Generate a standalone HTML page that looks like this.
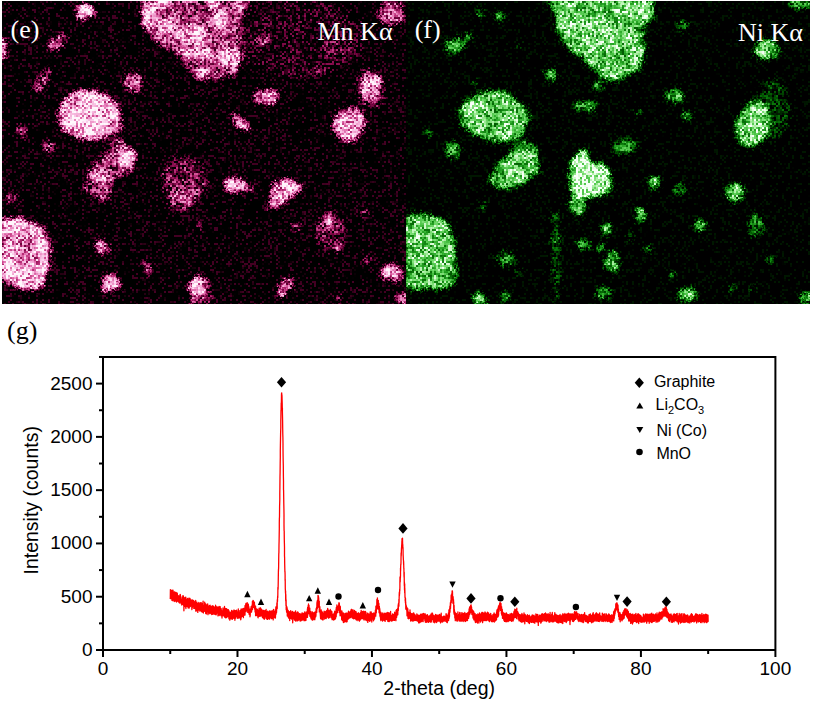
<!DOCTYPE html>
<html><head><meta charset="utf-8"><title>EDS maps and XRD pattern</title>
<style>
html,body{margin:0;padding:0;background:#fff;}
body{width:814px;height:709px;position:relative;overflow:hidden;}
svg{position:absolute;left:0;top:0;display:block;}
.tk{font-family:"Liberation Sans",Arial,sans-serif;font-size:19px;fill:#000;}
.ax{font-family:"Liberation Sans",Arial,sans-serif;font-size:19.5px;fill:#000;}
.lg{font-family:"Liberation Sans",Arial,sans-serif;font-size:16px;fill:#000;}
.sub{font-size:11px;}
.lab{font-family:"Liberation Serif","Times New Roman",serif;font-size:26px;}
</style></head><body>
<svg class="eds" width="814" height="306" viewBox="0 0 814 306">
<clipPath id="cmn"><rect x="2" y="1" width="404" height="303"/></clipPath>
<filter id="fmn" x="-12" y="-13" width="432" height="331" filterUnits="userSpaceOnUse" color-interpolation-filters="sRGB"><feTurbulence type="fractalNoise" baseFrequency="0.12" numOctaves="2" seed="27" result="dt"/><feDisplacementMap in="SourceGraphic" in2="dt" scale="7" xChannelSelector="R" yChannelSelector="G" result="d"/><feGaussianBlur in="d" stdDeviation="2.0" result="b0"/><feTurbulence type="fractalNoise" baseFrequency="0.7" numOctaves="1" seed="40" result="ht"/><feDisplacementMap in="b0" in2="ht" scale="7" xChannelSelector="R" yChannelSelector="G" result="b"/><feTurbulence type="fractalNoise" baseFrequency="0.06" numOctaves="2" seed="57" result="mt"/><feColorMatrix in="mt" type="matrix" values="2.2 0 0 0 -0.6  2.2 0 0 0 -0.6  2.2 0 0 0 -0.6  0 0 0 0 1" result="m"/><feComposite in="b" in2="m" operator="arithmetic" k1="0.5" k2="0.75" k3="0" k4="0" result="b2"/><feTurbulence type="fractalNoise" baseFrequency="0.85" numOctaves="1" seed="7" result="t0"/><feColorMatrix in="t0" type="matrix" values="3.6 0 0 0 -1.3  3.6 0 0 0 -1.3  3.6 0 0 0 -1.3  0 0 0 0 1" result="t1"/><feFlood flood-color="#fff" x="-12" y="-13" width="1" height="1" result="dot"/><feComposite in="dot" in2="dot" operator="over" x="-12" y="-13" width="2" height="2" result="cell"/><feTile in="cell" x="-12" y="-13" width="432" height="331" result="grid"/><feComposite in="t1" in2="grid" operator="in" result="sp"/><feConvolveMatrix in="sp" order="2" kernelMatrix="1 1 1 1" divisor="1" targetX="1" targetY="1" edgeMode="none" preserveAlpha="false" result="n0"/><feGaussianBlur in="n0" stdDeviation="0.4" result="n"/><feComposite in="b2" in2="n" operator="arithmetic" k1="0.17" k2="0.92" k3="0.5" k4="-0.36" result="v"/><feComponentTransfer in="v"><feFuncR type="table" tableValues="0.000 0.196 0.373 0.549 0.706 0.831 0.910 0.953 0.976 0.988 1.000"/><feFuncG type="table" tableValues="0.000 0.000 0.000 0.059 0.157 0.333 0.510 0.659 0.776 0.878 0.969"/><feFuncB type="table" tableValues="0.000 0.098 0.196 0.314 0.451 0.596 0.737 0.831 0.902 0.953 0.992"/><feFuncA type="linear" slope="0" intercept="1"/></feComponentTransfer></filter>
<g clip-path="url(#cmn)"><g filter="url(#fmn)"><rect x="-12" y="-13" width="432" height="331" fill="#000"/>
<ellipse cx="300" cy="38" rx="65" ry="40" fill="rgb(33,33,33)"/>
<ellipse cx="340" cy="48" rx="16" ry="10" fill="rgb(71,71,71)"/>
<polygon points="142.0,-2.0 142.0,27.0 156.0,43.0 181.0,57.0 192.0,75.0 199.0,80.0 233.0,78.0 243.0,60.0 244.0,40.0 240.0,24.0 246.0,12.0 251.0,4.0 251.0,-2.0" fill="rgb(128,128,128)"/>
<ellipse cx="150" cy="16" rx="8" ry="13" fill="rgb(224,224,224)"/>
<ellipse cx="165" cy="25" rx="8" ry="8" fill="rgb(219,219,219)"/>
<ellipse cx="192" cy="35" rx="13" ry="11" fill="rgb(235,235,235)"/>
<ellipse cx="219" cy="22" rx="10" ry="9" fill="rgb(224,224,224)"/>
<ellipse cx="196" cy="53" rx="15" ry="7" fill="rgb(224,224,224)"/>
<ellipse cx="230" cy="59" rx="11" ry="11" fill="rgb(204,204,204)"/>
<ellipse cx="200" cy="73" rx="7" ry="6" fill="rgb(191,191,191)"/>
<ellipse cx="164" cy="3" rx="8" ry="4" fill="rgb(219,219,219)"/>
<ellipse cx="212" cy="3" rx="7" ry="4" fill="rgb(219,219,219)"/>
<ellipse cx="241" cy="7" rx="6" ry="6" fill="rgb(217,217,217)"/>
<polygon points="57.0,117.0 62.0,102.0 71.0,93.0 88.0,89.0 110.0,96.0 119.0,109.0 121.0,126.0 113.0,135.0 99.0,140.0 80.0,139.0 64.0,131.0" fill="rgb(230,230,230)"/>
<polygon points="111.0,137.0 122.0,140.0 133.0,150.0 136.0,161.0 132.0,172.0 121.0,177.0 113.0,183.0 110.0,194.0 104.0,201.0 96.0,197.0 84.0,193.0 82.0,189.0 88.0,183.0 89.0,170.0 99.0,161.0 108.0,150.0" fill="rgb(128,128,128)"/>
<ellipse cx="105" cy="195" rx="5" ry="6" fill="rgb(158,158,158)"/>
<ellipse cx="127" cy="157" rx="9" ry="8" fill="rgb(224,224,224)"/>
<ellipse cx="98" cy="176" rx="9" ry="7" fill="rgb(199,199,199)"/>
<ellipse cx="85" cy="12" rx="10" ry="8" fill="rgb(204,204,204)"/>
<ellipse cx="2" cy="49" rx="5" ry="11" fill="rgb(178,178,178)"/>
<ellipse cx="57" cy="42" rx="11" ry="7" transform="rotate(-35 57 42)" fill="rgb(153,153,153)"/>
<ellipse cx="44" cy="78" rx="5" ry="12" transform="rotate(30 44 78)" fill="rgb(115,115,115)"/>
<ellipse cx="37" cy="88" rx="4" ry="3" fill="rgb(191,191,191)"/>
<ellipse cx="133" cy="83" rx="10" ry="9" fill="rgb(158,158,158)"/>
<ellipse cx="22" cy="130" rx="6" ry="7" fill="rgb(107,107,107)"/>
<ellipse cx="48" cy="147" rx="7" ry="5" fill="rgb(128,128,128)"/>
<ellipse cx="11" cy="200" rx="6" ry="5" fill="rgb(102,102,102)"/>
<ellipse cx="263" cy="41" rx="7" ry="5" fill="rgb(158,158,158)"/>
<ellipse cx="266" cy="97" rx="12" ry="8" fill="rgb(173,173,173)"/>
<ellipse cx="240" cy="123" rx="4.5" ry="12" transform="rotate(-42 240 123)" fill="rgb(242,242,242)"/>
<ellipse cx="319" cy="70" rx="6" ry="3" fill="rgb(89,89,89)"/>
<ellipse cx="371" cy="88" rx="15" ry="22" fill="rgb(64,64,64)"/>
<ellipse cx="370.5" cy="87" rx="9" ry="15" fill="rgb(224,224,224)"/>
<ellipse cx="349.5" cy="124" rx="16" ry="17" transform="rotate(15 349.5 124)" fill="rgb(209,209,209)"/>
<ellipse cx="391" cy="12" rx="13" ry="13" fill="rgb(153,153,153)"/>
<ellipse cx="390" cy="12" rx="6" ry="9" fill="rgb(204,204,204)"/>
<polygon points="163.5,171.0 173.0,157.6 190.5,157.6 204.0,167.0 208.0,180.5 201.0,196.8 190.5,207.6 177.0,211.6 167.6,205.0 164.9,187.3" fill="rgb(92,92,92)"/>
<ellipse cx="180" cy="199" rx="10" ry="7" fill="rgb(153,153,153)"/>
<ellipse cx="166" cy="174" rx="4" ry="5" fill="rgb(140,140,140)"/>
<ellipse cx="234" cy="185" rx="11" ry="8" transform="rotate(20 234 185)" fill="rgb(230,230,230)"/>
<ellipse cx="249" cy="188" rx="6" ry="4" transform="rotate(20 249 188)" fill="rgb(140,140,140)"/>
<ellipse cx="200" cy="225" rx="3" ry="3" fill="rgb(115,115,115)"/>
<polygon points="276.0,180.0 290.0,179.0 306.0,187.0 297.0,192.0 286.0,199.0 276.0,208.0 267.0,208.0 270.0,196.0" fill="rgb(224,224,224)"/>
<polygon points="0.0,219.0 16.0,217.6 32.0,220.8 44.7,230.0 50.0,244.7 50.0,264.0 45.5,282.5 37.0,290.0 19.2,290.0 6.4,284.5 0.0,275.0" fill="rgb(217,217,217)"/>
<ellipse cx="101.7" cy="247" rx="8" ry="7" fill="rgb(209,209,209)"/>
<polygon points="111.0,270.0 117.0,276.0 121.0,289.0 102.0,291.0 105.0,279.0" fill="rgb(217,217,217)"/>
<ellipse cx="147" cy="268" rx="3" ry="8" transform="rotate(-15 147 268)" fill="rgb(166,166,166)"/>
<ellipse cx="199" cy="287" rx="10" ry="11" fill="rgb(217,217,217)"/>
<ellipse cx="285" cy="287" rx="5" ry="13" transform="rotate(35 285 287)" fill="rgb(204,204,204)"/>
<ellipse cx="296" cy="227" rx="5" ry="4" fill="rgb(102,102,102)"/>
<ellipse cx="330" cy="232" rx="15" ry="19" fill="rgb(76,76,76)"/>
<ellipse cx="329" cy="221" rx="4" ry="5" fill="rgb(204,204,204)"/>
<ellipse cx="337" cy="248" rx="4" ry="3" fill="rgb(191,191,191)"/>
<ellipse cx="364" cy="212" rx="4" ry="3" fill="rgb(102,102,102)"/>
<ellipse cx="369" cy="260" rx="5" ry="3" fill="rgb(115,115,115)"/>
<ellipse cx="392" cy="273" rx="11" ry="8" transform="rotate(20 392 273)" fill="rgb(224,224,224)"/>
<ellipse cx="402" cy="299" rx="8" ry="6" fill="rgb(153,153,153)"/>
<ellipse cx="339" cy="300" rx="4" ry="4" fill="rgb(102,102,102)"/>
<ellipse cx="200" cy="300" rx="12" ry="5" fill="rgb(102,102,102)"/>
</g></g>
<clipPath id="cni"><rect x="406" y="1" width="404" height="303"/></clipPath>
<filter id="fni" x="392" y="-13" width="432" height="331" filterUnits="userSpaceOnUse" color-interpolation-filters="sRGB"><feTurbulence type="fractalNoise" baseFrequency="0.12" numOctaves="2" seed="31" result="dt"/><feDisplacementMap in="SourceGraphic" in2="dt" scale="7" xChannelSelector="R" yChannelSelector="G" result="d"/><feGaussianBlur in="d" stdDeviation="2.2" result="b0"/><feTurbulence type="fractalNoise" baseFrequency="0.7" numOctaves="1" seed="44" result="ht"/><feDisplacementMap in="b0" in2="ht" scale="7" xChannelSelector="R" yChannelSelector="G" result="b"/><feTurbulence type="fractalNoise" baseFrequency="0.06" numOctaves="2" seed="61" result="mt"/><feColorMatrix in="mt" type="matrix" values="2.2 0 0 0 -0.6  2.2 0 0 0 -0.6  2.2 0 0 0 -0.6  0 0 0 0 1" result="m"/><feComposite in="b" in2="m" operator="arithmetic" k1="0.3" k2="0.85" k3="0" k4="0" result="b2"/><feTurbulence type="fractalNoise" baseFrequency="0.85" numOctaves="1" seed="11" result="t0"/><feColorMatrix in="t0" type="matrix" values="3.6 0 0 0 -1.3  3.6 0 0 0 -1.3  3.6 0 0 0 -1.3  0 0 0 0 1" result="t1"/><feFlood flood-color="#fff" x="392" y="-13" width="1" height="1" result="dot"/><feComposite in="dot" in2="dot" operator="over" x="392" y="-13" width="2" height="2" result="cell"/><feTile in="cell" x="392" y="-13" width="432" height="331" result="grid"/><feComposite in="t1" in2="grid" operator="in" result="sp"/><feConvolveMatrix in="sp" order="2" kernelMatrix="1 1 1 1" divisor="1" targetX="1" targetY="1" edgeMode="none" preserveAlpha="false" result="n0"/><feGaussianBlur in="n0" stdDeviation="0.4" result="n"/><feComposite in="b2" in2="n" operator="arithmetic" k1="0.2" k2="0.94" k3="0.4" k4="-0.32" result="v"/><feComponentTransfer in="v"><feFuncR type="table" tableValues="0.000 0.000 0.000 0.012 0.059 0.157 0.294 0.451 0.627 0.843 0.980"/><feFuncG type="table" tableValues="0.000 0.118 0.243 0.373 0.510 0.647 0.765 0.855 0.925 0.980 1.000"/><feFuncB type="table" tableValues="0.000 0.000 0.000 0.012 0.059 0.149 0.275 0.424 0.596 0.824 0.980"/><feFuncA type="linear" slope="0" intercept="1"/></feComponentTransfer></filter>
<g clip-path="url(#cni)"><g filter="url(#fni)"><rect x="392" y="-13" width="432" height="331" fill="#000"/>
<polygon points="547.0,-2.0 547.0,0.0 554.0,10.3 555.8,31.0 564.4,46.4 581.6,56.8 593.6,68.8 602.2,79.0 622.9,79.0 640.0,68.8 645.2,48.2 643.5,25.8 653.8,17.2 653.8,-2.0" fill="rgb(194,194,194)"/>
<ellipse cx="800" cy="3" rx="12" ry="6" fill="rgb(166,166,166)"/>
<ellipse cx="455" cy="46" rx="10" ry="8" fill="rgb(178,178,178)"/>
<ellipse cx="468" cy="37" rx="5" ry="4" fill="rgb(153,153,153)"/>
<ellipse cx="480.5" cy="14" rx="5" ry="4" fill="rgb(153,153,153)"/>
<ellipse cx="499" cy="16" rx="5" ry="5" fill="rgb(153,153,153)"/>
<ellipse cx="521" cy="46" rx="2" ry="2" fill="rgb(140,140,140)"/>
<ellipse cx="551" cy="75" rx="5" ry="6" fill="rgb(178,178,178)"/>
<ellipse cx="597" cy="85" rx="5" ry="4" fill="rgb(153,153,153)"/>
<ellipse cx="683" cy="26" rx="5" ry="5" fill="rgb(128,128,128)"/>
<polygon points="458.3,111.2 467.5,98.3 482.2,91.0 504.2,91.0 522.6,103.9 530.0,116.7 524.4,131.4 513.4,140.6 495.0,142.4 476.7,136.9 462.0,125.9" fill="rgb(189,189,189)"/>
<polygon points="491.4,171.7 500.6,160.7 513.4,147.9 524.4,138.7 535.4,146.0 540.0,159.0 537.2,173.6 526.2,182.8 509.7,188.3 495.0,186.4 488.6,179.0" fill="rgb(184,184,184)"/>
<ellipse cx="453" cy="150" rx="7" ry="9" fill="rgb(178,178,178)"/>
<ellipse cx="475" cy="84" rx="3" ry="3" fill="rgb(140,140,140)"/>
<ellipse cx="429" cy="134" rx="4" ry="4" fill="rgb(140,140,140)"/>
<ellipse cx="452" cy="148" rx="7" ry="6" fill="rgb(153,153,153)"/>
<ellipse cx="524" cy="146" rx="8" ry="6" fill="rgb(140,140,140)"/>
<ellipse cx="766" cy="50" rx="12" ry="10" fill="rgb(199,199,199)"/>
<ellipse cx="772" cy="110" rx="18" ry="30" fill="rgb(64,64,64)"/>
<ellipse cx="753" cy="124" rx="17" ry="24" transform="rotate(15 753 124)" fill="rgb(194,194,194)"/>
<ellipse cx="675" cy="96" rx="10" ry="7" fill="rgb(178,178,178)"/>
<ellipse cx="586" cy="106" rx="12" ry="5" fill="rgb(153,153,153)"/>
<ellipse cx="598" cy="86" rx="5" ry="5" fill="rgb(140,140,140)"/>
<ellipse cx="640" cy="113" rx="3" ry="3" fill="rgb(140,140,140)"/>
<ellipse cx="687" cy="116" rx="5" ry="5" fill="rgb(140,140,140)"/>
<ellipse cx="625" cy="147" rx="13" ry="8" fill="rgb(115,115,115)"/>
<ellipse cx="578" cy="205" rx="9" ry="11" fill="rgb(178,178,178)"/>
<polygon points="570.8,160.8 577.0,151.0 585.0,149.6 588.0,162.0 602.7,164.0 610.7,172.0 613.0,184.7 609.0,192.7 594.7,196.0 582.0,197.5 572.4,194.3 569.0,181.5" fill="rgb(255,255,255)"/>
<ellipse cx="455" cy="155" rx="3" ry="4" fill="rgb(140,140,140)"/>
<ellipse cx="655" cy="183" rx="7" ry="6" fill="rgb(186,186,186)"/>
<ellipse cx="641" cy="214" rx="6" ry="6" fill="rgb(196,196,196)"/>
<ellipse cx="606" cy="229" rx="6" ry="6" fill="rgb(166,166,166)"/>
<ellipse cx="556" cy="218" rx="4" ry="6" fill="rgb(140,140,140)"/>
<ellipse cx="677" cy="191" rx="4" ry="4" fill="rgb(140,140,140)"/>
<ellipse cx="680" cy="189" rx="5" ry="6" fill="rgb(128,128,128)"/>
<ellipse cx="735" cy="193" rx="9" ry="10" transform="rotate(20 735 193)" fill="rgb(204,204,204)"/>
<ellipse cx="642" cy="214" rx="6" ry="6" fill="rgb(178,178,178)"/>
<ellipse cx="700" cy="225" rx="6" ry="6" fill="rgb(178,178,178)"/>
<ellipse cx="608" cy="228" rx="4" ry="5" fill="rgb(166,166,166)"/>
<ellipse cx="756" cy="227" rx="8" ry="11" fill="rgb(115,115,115)"/>
<ellipse cx="612" cy="262" rx="7" ry="11" fill="rgb(178,178,178)"/>
<ellipse cx="687" cy="294" rx="9" ry="7" fill="rgb(191,191,191)"/>
<ellipse cx="806" cy="298" rx="6" ry="6" fill="rgb(217,217,217)"/>
<ellipse cx="731" cy="288" rx="3" ry="3" fill="rgb(153,153,153)"/>
<ellipse cx="672" cy="274" rx="3" ry="3" fill="rgb(153,153,153)"/>
<ellipse cx="770" cy="259" rx="4" ry="3" fill="rgb(153,153,153)"/>
<polygon points="404.0,215.0 424.0,213.3 443.0,219.0 450.7,228.6 455.5,249.5 456.4,280.0 448.8,287.6 427.9,289.5 404.0,289.5" fill="rgb(189,189,189)"/>
<ellipse cx="506" cy="259" rx="10" ry="7" fill="rgb(115,115,115)"/>
<ellipse cx="519" cy="272" rx="4" ry="4" fill="rgb(115,115,115)"/>
<ellipse cx="480" cy="299" rx="7" ry="6" fill="rgb(217,217,217)"/>
<ellipse cx="506" cy="296" rx="6" ry="5" fill="rgb(128,128,128)"/>
<ellipse cx="556" cy="256" rx="4" ry="48" fill="rgb(76,76,76)"/>
<ellipse cx="556" cy="239" rx="4" ry="4" fill="rgb(153,153,153)"/>
<ellipse cx="584" cy="245" rx="7" ry="5" fill="rgb(153,153,153)"/>
<ellipse cx="600" cy="247" rx="4" ry="4" fill="rgb(153,153,153)"/>
<ellipse cx="605" cy="228" rx="5" ry="5" fill="rgb(153,153,153)"/>
<ellipse cx="603" cy="293" rx="7" ry="7" fill="rgb(153,153,153)"/>
<ellipse cx="484" cy="206" rx="3" ry="3" fill="rgb(115,115,115)"/>
<ellipse cx="648" cy="250" rx="3" ry="4" fill="rgb(140,140,140)"/>
<ellipse cx="754" cy="218" rx="4" ry="4" fill="rgb(128,128,128)"/>
<ellipse cx="631" cy="237" rx="2.5" ry="2.5" fill="rgb(128,128,128)"/>
<ellipse cx="752" cy="288" rx="3" ry="3" fill="rgb(128,128,128)"/>
</g></g>
<text x="10.6" y="38" class="lab" fill="#fff">(e)</text>
<text x="317.5" y="40" class="lab" fill="#fff">Mn K&#945;</text>
<text x="414.7" y="38" class="lab" fill="#fff">(f)</text>
<text x="738" y="40.8" class="lab" fill="#fff">Ni K&#945;</text>
</svg>
<svg class="chart" width="814" height="709" viewBox="0 0 814 709">
<polyline fill="none" stroke="#ff0000" stroke-width="1.3" stroke-linejoin="round" points="170.2,599.1 170.3,598.4 170.4,589.6 170.5,593.4 170.6,598.7 170.7,594.4 170.7,592.7 170.8,597.7 170.9,590.7 171.0,598.3 171.1,593.9 171.2,594.4 171.2,594.3 171.3,594.0 171.4,592.0 171.5,590.3 171.6,597.4 171.7,593.4 171.8,592.4 171.8,597.1 171.9,600.3 172.0,590.1 172.1,595.6 172.2,597.0 172.3,592.3 172.3,595.2 172.4,595.4 172.5,591.0 172.6,600.7 172.7,592.2 172.8,596.7 172.8,599.9 172.9,594.4 173.0,590.2 173.1,598.7 173.2,593.0 173.3,595.5 173.3,594.1 173.4,594.7 173.5,600.0 173.6,592.0 173.7,595.1 173.8,594.6 173.9,593.5 173.9,595.3 174.0,592.8 174.1,591.8 174.2,601.5 174.3,593.5 174.4,597.2 174.4,596.5 174.5,599.3 174.6,592.8 174.7,597.6 174.8,592.0 174.9,598.7 174.9,596.2 175.0,597.7 175.1,595.5 175.2,601.1 175.3,600.2 175.4,594.3 175.5,594.8 175.5,596.2 175.6,594.5 175.7,600.2 175.8,593.5 175.9,599.0 176.0,592.4 176.0,596.1 176.1,596.6 176.2,592.6 176.3,594.9 176.4,593.7 176.5,602.0 176.5,597.9 176.6,601.9 176.7,601.7 176.8,601.5 176.9,593.2 177.0,601.6 177.0,600.0 177.1,595.2 177.2,595.4 177.3,593.2 177.4,597.0 177.5,601.1 177.6,596.8 177.6,596.1 177.7,600.3 177.8,597.0 177.9,599.8 178.0,598.4 178.1,596.4 178.1,597.1 178.2,598.7 178.3,598.4 178.4,600.6 178.5,598.9 178.6,601.7 178.6,598.6 178.7,598.7 178.8,595.7 178.9,599.4 179.0,602.6 179.1,600.1 179.1,600.0 179.2,596.2 179.3,599.3 179.4,599.4 179.5,596.1 179.6,599.2 179.7,600.0 179.7,600.9 179.8,598.4 179.9,603.2 180.0,599.6 180.1,594.3 180.2,597.9 180.2,596.6 180.3,595.2 180.4,594.6 180.5,597.7 180.6,596.3 180.7,596.7 180.7,602.2 180.8,599.4 180.9,602.2 181.0,601.7 181.1,599.0 181.2,602.0 181.3,599.6 181.3,600.6 181.4,603.9 181.5,599.2 181.6,601.9 181.7,599.2 181.8,605.0 181.8,603.4 181.9,600.0 182.0,601.2 182.1,599.1 182.2,603.5 182.3,602.7 182.3,597.0 182.4,603.0 182.5,604.3 182.6,603.1 182.7,601.9 182.8,603.6 182.8,598.9 182.9,595.7 183.0,604.0 183.1,602.4 183.2,599.0 183.3,597.4 183.4,596.0 183.4,604.8 183.5,602.1 183.6,598.9 183.7,606.0 183.8,600.0 183.9,610.8 183.9,599.8 184.0,597.8 184.1,600.8 184.2,606.9 184.3,606.5 184.4,602.6 184.4,598.0 184.5,605.5 184.6,600.7 184.7,602.9 184.8,604.6 184.9,599.6 184.9,603.0 185.0,603.9 185.1,597.3 185.2,601.7 185.3,597.9 185.4,601.2 185.5,606.9 185.5,603.8 185.6,598.3 185.7,601.0 185.8,597.2 185.9,608.6 186.0,604.2 186.0,599.1 186.1,599.2 186.2,601.1 186.3,601.9 186.4,599.1 186.5,600.7 186.5,602.1 186.6,600.6 186.7,599.6 186.8,602.7 186.9,601.6 187.0,602.3 187.0,600.9 187.1,602.7 187.2,606.6 187.3,603.2 187.4,598.7 187.5,600.8 187.6,601.2 187.6,603.0 187.7,604.6 187.8,601.4 187.9,605.1 188.0,599.4 188.1,598.1 188.1,598.8 188.2,608.0 188.3,605.7 188.4,600.0 188.5,604.3 188.6,604.0 188.6,605.2 188.7,601.5 188.8,604.8 188.9,601.1 189.0,602.2 189.1,600.6 189.2,608.0 189.2,598.9 189.3,604.0 189.4,602.3 189.5,603.5 189.6,604.3 189.7,598.1 189.7,605.2 189.8,602.7 189.9,606.7 190.0,603.3 190.1,598.7 190.2,598.9 190.2,606.4 190.3,603.3 190.4,600.6 190.5,606.3 190.6,602.7 190.7,599.9 190.7,600.5 190.8,605.4 190.9,604.2 191.0,602.1 191.1,604.7 191.2,600.9 191.3,604.0 191.3,601.1 191.4,604.2 191.5,605.0 191.6,605.2 191.7,600.7 191.8,607.6 191.8,607.6 191.9,609.6 192.0,601.8 192.1,599.6 192.2,607.9 192.3,606.9 192.3,607.7 192.4,603.8 192.5,603.6 192.6,602.3 192.7,605.8 192.8,600.7 192.8,605.8 192.9,601.2 193.0,604.1 193.1,601.2 193.2,604.3 193.3,605.0 193.4,602.9 193.4,606.0 193.5,604.7 193.6,600.9 193.7,600.4 193.8,608.4 193.9,603.8 193.9,606.9 194.0,606.4 194.1,608.0 194.2,602.5 194.3,601.6 194.4,607.5 194.4,606.3 194.5,605.0 194.6,604.3 194.7,603.1 194.8,608.5 194.9,607.6 195.0,601.8 195.0,605.6 195.1,604.3 195.2,602.8 195.3,604.8 195.4,602.4 195.5,604.9 195.5,608.0 195.6,606.7 195.7,600.5 195.8,611.2 195.9,604.8 196.0,602.4 196.0,608.7 196.1,608.8 196.2,606.2 196.3,606.7 196.4,605.4 196.5,605.9 196.5,603.7 196.6,610.8 196.7,603.1 196.8,609.9 196.9,602.1 197.0,606.2 197.1,603.2 197.1,609.7 197.2,607.5 197.3,604.9 197.4,604.4 197.5,604.7 197.6,610.2 197.6,605.8 197.7,603.6 197.8,612.4 197.9,603.6 198.0,608.4 198.1,610.7 198.1,609.9 198.2,604.8 198.3,610.1 198.4,608.7 198.5,607.2 198.6,609.5 198.6,604.8 198.7,604.5 198.8,602.3 198.9,605.5 199.0,609.6 199.1,608.2 199.2,609.8 199.2,608.6 199.3,606.4 199.4,604.4 199.5,609.0 199.6,608.1 199.7,604.5 199.7,603.6 199.8,610.2 199.9,611.2 200.0,605.0 200.1,606.2 200.2,607.0 200.2,603.8 200.3,602.8 200.4,610.8 200.5,602.8 200.6,603.2 200.7,608.7 200.8,605.6 200.8,608.2 200.9,606.5 201.0,607.9 201.1,605.9 201.2,602.6 201.3,607.2 201.3,606.1 201.4,609.2 201.5,604.2 201.6,611.7 201.7,609.1 201.8,604.6 201.8,609.7 201.9,610.5 202.0,610.4 202.1,604.6 202.2,612.0 202.3,609.9 202.3,603.6 202.4,603.8 202.5,608.6 202.6,610.4 202.7,603.1 202.8,605.5 202.9,605.7 202.9,606.8 203.0,606.3 203.1,601.2 203.2,608.8 203.3,612.8 203.4,613.0 203.4,607.9 203.5,605.8 203.6,606.9 203.7,606.1 203.8,609.7 203.9,609.6 203.9,610.0 204.0,608.9 204.1,608.1 204.2,605.2 204.3,611.3 204.4,610.8 204.4,606.8 204.5,608.2 204.6,610.6 204.7,602.1 204.8,606.0 204.9,610.6 205.0,610.3 205.0,607.7 205.1,606.8 205.2,610.8 205.3,606.6 205.4,606.1 205.5,604.0 205.5,610.5 205.6,606.8 205.7,613.5 205.8,611.5 205.9,613.0 206.0,611.2 206.0,604.2 206.1,604.9 206.2,608.1 206.3,609.1 206.4,611.3 206.5,613.9 206.5,611.4 206.6,604.8 206.7,608.6 206.8,607.6 206.9,610.5 207.0,605.4 207.1,606.6 207.1,610.1 207.2,608.7 207.3,608.5 207.4,607.1 207.5,609.0 207.6,607.2 207.6,605.1 207.7,603.9 207.8,612.2 207.9,610.5 208.0,614.7 208.1,609.6 208.1,605.8 208.2,606.8 208.3,608.9 208.4,610.9 208.5,607.9 208.6,606.4 208.7,610.4 208.7,606.6 208.8,611.2 208.9,611.4 209.0,606.1 209.1,613.1 209.2,611.4 209.2,608.2 209.3,605.6 209.4,607.0 209.5,612.8 209.6,611.3 209.7,607.4 209.7,610.9 209.8,612.0 209.9,613.8 210.0,610.8 210.1,605.2 210.2,613.6 210.2,608.4 210.3,607.5 210.4,607.5 210.5,613.1 210.6,608.3 210.7,612.1 210.8,609.2 210.8,612.4 210.9,606.4 211.0,606.4 211.1,607.8 211.2,610.5 211.3,607.6 211.3,606.2 211.4,611.7 211.5,609.1 211.6,613.5 211.7,614.5 211.8,607.3 211.8,614.3 211.9,610.3 212.0,612.8 212.1,609.1 212.2,608.4 212.3,607.0 212.3,610.5 212.4,610.5 212.5,610.2 212.6,609.0 212.7,605.7 212.8,614.1 212.9,612.7 212.9,614.4 213.0,614.1 213.1,609.0 213.2,606.9 213.3,606.1 213.4,612.9 213.4,610.8 213.5,607.4 213.6,610.2 213.7,612.6 213.8,606.7 213.9,607.0 213.9,613.0 214.0,610.7 214.1,614.1 214.2,614.0 214.3,610.9 214.4,613.0 214.5,607.1 214.5,612.2 214.6,612.7 214.7,608.6 214.8,612.2 214.9,613.5 215.0,608.2 215.0,613.0 215.1,614.1 215.2,609.6 215.3,614.5 215.4,608.4 215.5,614.2 215.5,614.4 215.6,605.2 215.7,610.9 215.8,606.9 215.9,607.9 216.0,608.6 216.0,614.6 216.1,609.5 216.2,614.8 216.3,613.9 216.4,607.2 216.5,612.3 216.6,609.5 216.6,610.5 216.7,608.6 216.8,609.2 216.9,606.7 217.0,612.0 217.1,607.8 217.1,607.0 217.2,610.2 217.3,612.2 217.4,612.4 217.5,609.4 217.6,613.0 217.6,613.2 217.7,609.3 217.8,611.7 217.9,612.7 218.0,615.9 218.1,608.9 218.1,607.2 218.2,608.0 218.3,610.1 218.4,611.4 218.5,615.3 218.6,607.8 218.7,612.6 218.7,610.1 218.8,613.6 218.9,608.3 219.0,614.3 219.1,606.4 219.2,609.8 219.2,611.7 219.3,610.7 219.4,614.6 219.5,611.8 219.6,615.2 219.7,611.5 219.7,612.4 219.8,612.3 219.9,612.9 220.0,614.5 220.1,615.7 220.2,613.9 220.2,606.7 220.3,610.0 220.4,611.3 220.5,611.7 220.6,614.4 220.7,612.1 220.8,610.6 220.8,609.8 220.9,611.9 221.0,609.1 221.1,608.6 221.2,608.7 221.3,612.6 221.3,611.3 221.4,613.3 221.5,611.7 221.6,616.0 221.7,610.6 221.8,613.6 221.8,612.3 221.9,612.2 222.0,618.1 222.1,612.6 222.2,612.5 222.3,610.9 222.4,616.0 222.4,611.8 222.5,613.3 222.6,614.4 222.7,614.2 222.8,611.0 222.9,614.1 222.9,609.3 223.0,608.0 223.1,614.7 223.2,615.0 223.3,613.7 223.4,611.5 223.4,612.3 223.5,612.2 223.6,615.7 223.7,614.1 223.8,614.7 223.9,610.4 223.9,608.8 224.0,615.4 224.1,609.8 224.2,616.0 224.3,616.4 224.4,612.9 224.5,611.2 224.5,606.4 224.6,612.3 224.7,614.6 224.8,612.0 224.9,617.4 225.0,608.1 225.0,615.0 225.1,617.4 225.2,616.4 225.3,610.0 225.4,608.4 225.5,615.9 225.5,609.1 225.6,609.8 225.7,613.9 225.8,617.9 225.9,615.8 226.0,614.2 226.0,615.3 226.1,615.5 226.2,614.3 226.3,608.6 226.4,617.6 226.5,610.5 226.6,613.6 226.6,611.3 226.7,613.2 226.8,609.0 226.9,615.9 227.0,614.7 227.1,612.5 227.1,611.6 227.2,615.5 227.3,614.5 227.4,616.9 227.5,612.5 227.6,610.3 227.6,610.9 227.7,614.1 227.8,609.7 227.9,609.9 228.0,616.3 228.1,616.7 228.2,610.9 228.2,611.1 228.3,612.3 228.4,609.7 228.5,615.0 228.6,614.6 228.7,617.3 228.7,614.5 228.8,610.3 228.9,618.8 229.0,618.0 229.1,617.6 229.2,615.0 229.2,612.5 229.3,613.1 229.4,611.8 229.5,612.6 229.6,612.7 229.7,613.2 229.7,614.7 229.8,620.2 229.9,617.9 230.0,612.0 230.1,616.4 230.2,614.3 230.3,613.2 230.3,613.4 230.4,616.1 230.5,616.7 230.6,618.2 230.7,613.0 230.8,613.2 230.8,618.2 230.9,617.2 231.0,618.8 231.1,613.7 231.2,617.2 231.3,612.3 231.3,616.9 231.4,614.5 231.5,613.2 231.6,610.4 231.7,613.8 231.8,610.9 231.8,614.2 231.9,619.0 232.0,616.1 232.1,612.5 232.2,616.5 232.3,612.8 232.4,619.3 232.4,614.3 232.5,614.9 232.6,611.3 232.7,617.9 232.8,614.8 232.9,611.0 232.9,616.3 233.0,615.4 233.1,616.5 233.2,615.2 233.3,615.7 233.4,612.9 233.4,611.9 233.5,616.0 233.6,611.9 233.7,613.2 233.8,611.4 233.9,618.4 233.9,617.7 234.0,609.9 234.1,615.1 234.2,613.1 234.3,612.6 234.4,611.5 234.5,618.1 234.5,611.1 234.6,611.3 234.7,616.9 234.8,612.5 234.9,620.3 235.0,610.6 235.0,614.8 235.1,612.8 235.2,611.6 235.3,618.4 235.4,610.7 235.5,616.7 235.5,616.8 235.6,617.1 235.7,615.3 235.8,613.0 235.9,616.3 236.0,613.9 236.1,612.3 236.1,610.7 236.2,614.7 236.3,615.5 236.4,613.4 236.5,612.9 236.6,610.2 236.6,612.8 236.7,614.3 236.8,616.3 236.9,611.8 237.0,613.7 237.1,617.7 237.1,614.8 237.2,618.2 237.3,615.3 237.4,617.1 237.5,615.7 237.6,614.0 237.6,612.7 237.7,615.4 237.8,611.7 237.9,618.3 238.0,617.8 238.1,613.4 238.2,613.3 238.2,611.1 238.3,609.0 238.4,615.0 238.5,612.1 238.6,613.8 238.7,615.5 238.7,615.2 238.8,610.4 238.9,614.8 239.0,614.0 239.1,615.2 239.2,612.7 239.2,618.1 239.3,612.9 239.4,617.3 239.5,614.5 239.6,614.0 239.7,613.5 239.7,613.4 239.8,613.2 239.9,617.6 240.0,615.7 240.1,611.9 240.2,614.7 240.3,610.4 240.3,614.5 240.4,613.8 240.5,612.6 240.6,610.2 240.7,619.8 240.8,616.3 240.8,616.2 240.9,617.7 241.0,618.9 241.1,608.9 241.2,617.9 241.3,614.0 241.3,610.8 241.4,614.3 241.5,615.5 241.6,616.2 241.7,615.5 241.8,615.6 241.9,614.0 241.9,614.1 242.0,616.3 242.1,609.2 242.2,609.2 242.3,612.9 242.4,616.2 242.4,610.8 242.5,614.9 242.6,614.7 242.7,616.3 242.8,608.9 242.9,612.2 242.9,615.6 243.0,614.7 243.1,612.3 243.2,612.7 243.3,611.0 243.4,608.4 243.4,617.7 243.5,610.3 243.6,609.3 243.7,615.4 243.8,609.4 243.9,609.6 244.0,609.6 244.0,614.0 244.1,613.1 244.2,608.5 244.3,612.1 244.4,615.0 244.5,609.2 244.5,612.2 244.6,612.0 244.7,611.5 244.8,614.0 244.9,610.9 245.0,615.0 245.0,605.6 245.1,611.9 245.2,610.8 245.3,609.6 245.4,610.5 245.5,611.4 245.5,605.8 245.6,611.5 245.7,604.5 245.8,607.9 245.9,603.4 246.0,609.9 246.1,611.7 246.1,604.0 246.2,611.0 246.3,604.4 246.4,604.2 246.5,609.0 246.6,607.8 246.6,606.9 246.7,603.2 246.8,603.2 246.9,606.0 247.0,604.8 247.1,603.4 247.1,610.2 247.2,602.6 247.3,603.7 247.4,608.8 247.5,604.5 247.6,603.8 247.7,604.5 247.7,611.4 247.8,612.4 247.9,610.6 248.0,611.1 248.1,608.5 248.2,607.1 248.2,607.8 248.3,604.1 248.4,609.2 248.5,609.2 248.6,610.9 248.7,606.2 248.7,607.7 248.8,607.2 248.9,607.3 249.0,614.1 249.1,608.9 249.2,610.9 249.2,609.3 249.3,614.5 249.4,608.8 249.5,609.4 249.6,613.3 249.7,614.3 249.8,610.7 249.8,615.1 249.9,612.4 250.0,616.8 250.1,612.0 250.2,615.7 250.3,611.0 250.3,611.9 250.4,610.7 250.5,611.5 250.6,608.8 250.7,609.0 250.8,611.8 250.8,610.1 250.9,608.4 251.0,609.2 251.1,606.6 251.2,610.8 251.3,611.8 251.3,610.9 251.4,608.3 251.5,612.2 251.6,607.7 251.7,611.2 251.8,607.8 251.9,605.8 251.9,606.3 252.0,607.9 252.1,605.1 252.2,604.9 252.3,607.3 252.4,608.0 252.4,601.5 252.5,609.5 252.6,608.1 252.7,607.4 252.8,607.8 252.9,601.0 252.9,603.8 253.0,600.4 253.1,604.4 253.2,605.0 253.3,600.6 253.4,600.6 253.4,606.0 253.5,601.7 253.6,603.0 253.7,606.2 253.8,604.3 253.9,603.0 254.0,607.6 254.0,605.3 254.1,603.6 254.2,604.1 254.3,607.3 254.4,602.1 254.5,605.8 254.5,603.8 254.6,606.2 254.7,609.2 254.8,605.3 254.9,607.6 255.0,605.3 255.0,606.2 255.1,612.0 255.2,610.7 255.3,610.3 255.4,606.7 255.5,611.3 255.6,606.5 255.6,615.7 255.7,613.8 255.8,613.6 255.9,609.4 256.0,611.5 256.1,613.0 256.1,612.8 256.2,608.5 256.3,615.4 256.4,609.8 256.5,612.8 256.6,612.1 256.6,609.7 256.7,614.1 256.8,615.6 256.9,615.2 257.0,615.7 257.1,615.6 257.1,613.0 257.2,612.1 257.3,614.4 257.4,609.5 257.5,609.3 257.6,610.6 257.7,611.9 257.7,614.2 257.8,610.6 257.9,617.0 258.0,617.5 258.1,617.8 258.2,614.0 258.2,611.3 258.3,616.8 258.4,611.4 258.5,612.8 258.6,611.0 258.7,611.1 258.7,615.7 258.8,616.0 258.9,611.9 259.0,610.1 259.1,608.1 259.2,610.7 259.2,614.3 259.3,615.8 259.4,616.3 259.5,613.7 259.6,610.1 259.7,614.6 259.8,610.1 259.8,612.7 259.9,609.8 260.0,610.7 260.1,609.8 260.2,615.1 260.3,612.6 260.3,608.0 260.4,614.3 260.5,607.8 260.6,610.3 260.7,608.8 260.8,616.3 260.8,610.9 260.9,610.0 261.0,613.0 261.1,611.4 261.2,609.7 261.3,615.7 261.4,611.9 261.4,613.1 261.5,609.1 261.6,610.6 261.7,613.4 261.8,615.7 261.9,609.7 261.9,610.1 262.0,610.7 262.1,610.1 262.2,611.5 262.3,614.9 262.4,615.1 262.4,617.2 262.5,613.7 262.6,617.5 262.7,612.6 262.8,611.6 262.9,610.8 262.9,613.7 263.0,617.9 263.1,615.3 263.2,613.9 263.3,615.0 263.4,610.5 263.5,612.8 263.5,615.1 263.6,616.1 263.7,614.4 263.8,618.7 263.9,614.5 264.0,612.8 264.0,610.4 264.1,613.9 264.2,614.8 264.3,619.3 264.4,614.9 264.5,616.4 264.5,614.6 264.6,611.0 264.7,611.2 264.8,618.6 264.9,618.2 265.0,611.8 265.0,611.1 265.1,613.9 265.2,612.8 265.3,615.5 265.4,616.9 265.5,610.5 265.6,611.2 265.6,614.1 265.7,612.0 265.8,614.2 265.9,612.2 266.0,614.2 266.1,614.8 266.1,609.5 266.2,616.6 266.3,613.1 266.4,611.6 266.5,618.8 266.6,618.1 266.6,615.6 266.7,614.2 266.8,614.4 266.9,612.3 267.0,617.8 267.1,617.0 267.1,618.0 267.2,618.0 267.3,613.8 267.4,619.4 267.5,611.1 267.6,612.8 267.7,618.3 267.7,612.7 267.8,618.1 267.9,614.1 268.0,616.5 268.1,616.9 268.2,614.6 268.2,612.3 268.3,618.8 268.4,617.5 268.5,615.1 268.6,611.8 268.7,617.0 268.7,612.8 268.8,614.0 268.9,615.9 269.0,612.9 269.1,617.7 269.2,614.5 269.3,618.8 269.3,613.8 269.4,610.8 269.5,619.2 269.6,618.1 269.7,615.1 269.8,611.7 269.8,613.7 269.9,612.2 270.0,615.8 270.1,610.9 270.2,616.3 270.3,612.6 270.3,615.4 270.4,612.0 270.5,617.5 270.6,616.0 270.7,611.9 270.8,612.4 270.8,614.8 270.9,614.3 271.0,611.7 271.1,618.3 271.2,616.9 271.3,618.6 271.4,614.6 271.4,612.0 271.5,618.2 271.6,612.8 271.7,610.8 271.8,617.1 271.9,613.9 271.9,613.6 272.0,618.6 272.1,612.3 272.2,616.1 272.3,617.7 272.4,615.4 272.4,614.1 272.5,612.9 272.6,613.8 272.7,617.0 272.8,615.3 272.9,610.5 272.9,616.3 273.0,615.9 273.1,612.6 273.2,619.9 273.3,615.1 273.4,610.7 273.5,609.3 273.5,617.3 273.6,617.6 273.7,613.9 273.8,612.6 273.9,611.3 274.0,617.4 274.0,615.1 274.1,613.5 274.2,616.7 274.3,613.0 274.4,613.5 274.5,614.2 274.5,611.8 274.6,615.1 274.7,612.4 274.8,611.5 274.9,615.7 275.0,617.2 275.1,618.2 275.1,611.6 275.2,609.9 275.3,611.3 275.4,618.0 275.5,616.5 275.6,610.0 275.6,612.2 275.7,612.8 275.8,608.7 275.9,606.8 276.0,614.3 276.1,610.8 276.1,609.0 276.2,607.6 276.3,607.1 276.4,608.1 276.5,612.7 276.6,610.5 276.6,610.4 276.7,607.7 276.8,607.2 276.9,602.8 277.0,608.6 277.1,607.3 277.2,608.4 277.2,605.8 277.3,599.7 277.4,600.3 277.5,601.6 277.6,597.3 277.7,596.0 277.7,595.8 277.8,597.5 277.9,587.9 278.0,587.1 278.1,589.2 278.2,584.2 278.2,584.7 278.3,577.7 278.4,571.9 278.5,569.4 278.6,568.5 278.7,561.4 278.7,560.1 278.8,553.6 278.9,552.9 279.0,544.6 279.1,541.2 279.2,534.8 279.3,528.7 279.3,523.3 279.4,517.8 279.5,517.4 279.6,506.2 279.7,503.2 279.8,499.5 279.8,493.4 279.9,487.0 280.0,476.7 280.1,472.6 280.2,463.3 280.3,457.2 280.3,451.1 280.4,445.2 280.5,439.5 280.6,433.9 280.7,430.5 280.8,427.4 280.8,420.9 280.9,416.8 281.0,410.1 281.1,410.5 281.2,402.9 281.3,404.8 281.4,400.8 281.4,400.9 281.5,394.1 281.6,393.2 281.7,392.8 281.8,398.2 281.9,396.9 281.9,394.6 282.0,396.2 282.1,399.9 282.2,403.1 282.3,409.4 282.4,407.8 282.4,411.4 282.5,415.7 282.6,420.4 282.7,428.2 282.8,434.3 282.9,437.3 283.0,443.2 283.0,447.4 283.1,455.9 283.2,461.5 283.3,465.6 283.4,477.0 283.5,481.1 283.5,489.6 283.6,490.4 283.7,497.5 283.8,503.8 283.9,508.5 284.0,514.3 284.0,524.7 284.1,530.8 284.2,530.9 284.3,539.8 284.4,543.3 284.5,547.0 284.5,555.7 284.6,557.3 284.7,564.3 284.8,568.2 284.9,572.0 285.0,571.5 285.1,575.2 285.1,580.4 285.2,579.1 285.3,588.8 285.4,590.3 285.5,593.3 285.6,590.9 285.6,591.2 285.7,600.7 285.8,594.5 285.9,601.1 286.0,605.8 286.1,603.6 286.1,599.8 286.2,609.8 286.3,605.3 286.4,607.9 286.5,606.9 286.6,612.2 286.6,610.8 286.7,612.1 286.8,606.6 286.9,609.3 287.0,607.3 287.1,608.2 287.2,610.3 287.2,608.3 287.3,616.0 287.4,614.4 287.5,610.0 287.6,613.8 287.7,614.3 287.7,613.6 287.8,614.2 287.9,610.9 288.0,610.8 288.1,612.8 288.2,610.3 288.2,615.3 288.3,616.7 288.4,617.4 288.5,613.4 288.6,617.6 288.7,618.0 288.8,617.8 288.8,617.4 288.9,617.4 289.0,617.9 289.1,616.6 289.2,614.8 289.3,615.6 289.3,611.6 289.4,616.4 289.5,614.3 289.6,612.9 289.7,620.6 289.8,615.1 289.8,619.3 289.9,619.0 290.0,613.6 290.1,613.3 290.2,615.4 290.3,612.2 290.3,611.7 290.4,615.7 290.5,614.8 290.6,618.3 290.7,610.6 290.8,613.6 290.9,618.4 290.9,615.4 291.0,617.9 291.1,611.9 291.2,616.9 291.3,617.6 291.4,613.8 291.4,615.9 291.5,618.4 291.6,619.0 291.7,618.7 291.8,615.3 291.9,617.1 291.9,614.2 292.0,611.8 292.1,618.9 292.2,618.8 292.3,614.3 292.4,614.8 292.4,611.5 292.5,619.3 292.6,614.9 292.7,622.8 292.8,618.2 292.9,616.4 293.0,613.1 293.0,613.4 293.1,613.2 293.2,616.0 293.3,617.6 293.4,618.3 293.5,617.5 293.5,614.0 293.6,618.6 293.7,612.3 293.8,614.4 293.9,615.0 294.0,614.5 294.0,612.0 294.1,614.9 294.2,613.9 294.3,614.7 294.4,620.1 294.5,613.0 294.5,616.1 294.6,619.0 294.7,620.1 294.8,616.7 294.9,616.4 295.0,616.6 295.1,616.0 295.1,617.0 295.2,614.6 295.3,612.4 295.4,619.5 295.5,615.4 295.6,610.8 295.6,621.0 295.7,615.6 295.8,613.5 295.9,614.0 296.0,617.7 296.1,617.0 296.1,619.2 296.2,615.3 296.3,613.8 296.4,612.8 296.5,615.7 296.6,616.6 296.7,619.2 296.7,619.2 296.8,619.0 296.9,617.1 297.0,621.0 297.1,617.3 297.2,614.8 297.2,618.4 297.3,613.2 297.4,615.4 297.5,615.6 297.6,611.9 297.7,619.5 297.7,617.9 297.8,620.7 297.9,619.8 298.0,616.1 298.1,620.4 298.2,615.8 298.2,612.5 298.3,617.9 298.4,615.2 298.5,620.0 298.6,614.5 298.7,615.2 298.8,616.6 298.8,614.4 298.9,616.4 299.0,616.0 299.1,619.3 299.2,614.0 299.3,618.2 299.3,614.5 299.4,616.1 299.5,619.8 299.6,616.8 299.7,613.7 299.8,615.8 299.8,619.8 299.9,616.6 300.0,614.1 300.1,620.2 300.2,621.1 300.3,615.7 300.3,616.5 300.4,614.0 300.5,617.9 300.6,615.9 300.7,619.4 300.8,620.4 300.9,617.5 300.9,615.1 301.0,616.5 301.1,620.8 301.2,620.6 301.3,615.3 301.4,616.2 301.4,618.6 301.5,617.7 301.6,613.9 301.7,616.0 301.8,618.2 301.9,618.0 301.9,619.2 302.0,613.0 302.1,618.4 302.2,618.6 302.3,620.2 302.4,618.0 302.5,615.5 302.5,613.4 302.6,617.3 302.7,619.5 302.8,613.2 302.9,616.6 303.0,618.6 303.0,619.6 303.1,616.8 303.2,614.7 303.3,616.0 303.4,613.4 303.5,618.0 303.5,614.5 303.6,619.5 303.7,616.8 303.8,619.4 303.9,617.8 304.0,615.2 304.0,620.7 304.1,617.2 304.2,619.4 304.3,615.1 304.4,618.8 304.5,617.9 304.6,616.4 304.6,620.6 304.7,611.8 304.8,614.5 304.9,617.8 305.0,616.4 305.1,620.7 305.1,613.2 305.2,617.6 305.3,616.4 305.4,619.7 305.5,615.7 305.6,616.7 305.6,614.0 305.7,613.5 305.8,616.1 305.9,620.4 306.0,619.2 306.1,615.8 306.1,615.0 306.2,612.0 306.3,612.5 306.4,613.2 306.5,616.4 306.6,615.6 306.7,616.9 306.7,614.1 306.8,614.8 306.9,616.0 307.0,617.4 307.1,616.4 307.2,612.6 307.2,613.3 307.3,615.5 307.4,608.9 307.5,617.3 307.6,607.4 307.7,608.8 307.7,615.6 307.8,607.8 307.9,608.2 308.0,611.2 308.1,606.9 308.2,605.5 308.3,613.7 308.3,610.2 308.4,613.5 308.5,604.0 308.6,611.1 308.7,612.4 308.8,612.2 308.8,606.1 308.9,610.8 309.0,605.3 309.1,612.8 309.2,609.9 309.3,613.9 309.3,612.2 309.4,612.8 309.5,610.2 309.6,613.8 309.7,612.4 309.8,608.2 309.8,611.1 309.9,616.3 310.0,614.1 310.1,612.1 310.2,613.4 310.3,616.0 310.4,616.0 310.4,615.4 310.5,613.2 310.6,614.2 310.7,616.5 310.8,617.9 310.9,616.8 310.9,611.4 311.0,617.8 311.1,617.5 311.2,619.0 311.3,614.6 311.4,618.9 311.4,617.2 311.5,617.4 311.6,616.7 311.7,616.0 311.8,612.9 311.9,618.5 311.9,619.2 312.0,614.8 312.1,618.5 312.2,619.6 312.3,620.0 312.4,611.8 312.5,615.6 312.5,614.7 312.6,619.6 312.7,614.0 312.8,620.1 312.9,615.1 313.0,613.4 313.0,615.4 313.1,618.9 313.2,613.0 313.3,619.1 313.4,617.7 313.5,616.1 313.5,614.8 313.6,619.1 313.7,618.0 313.8,616.6 313.9,613.0 314.0,612.6 314.0,619.1 314.1,614.6 314.2,617.4 314.3,619.6 314.4,616.5 314.5,619.3 314.6,615.1 314.6,615.0 314.7,619.3 314.8,619.7 314.9,614.6 315.0,611.9 315.1,617.9 315.1,612.0 315.2,615.7 315.3,616.3 315.4,613.3 315.5,611.7 315.6,615.4 315.6,612.8 315.7,616.7 315.8,614.3 315.9,616.3 316.0,614.0 316.1,608.7 316.2,610.4 316.2,609.9 316.3,608.9 316.4,608.7 316.5,608.4 316.6,607.4 316.7,611.9 316.7,612.4 316.8,609.7 316.9,604.1 317.0,602.3 317.1,608.6 317.2,600.8 317.2,601.5 317.3,608.8 317.4,603.4 317.5,605.5 317.6,600.2 317.7,604.0 317.7,601.7 317.8,600.0 317.9,602.9 318.0,595.3 318.1,598.9 318.2,603.7 318.3,599.8 318.3,600.9 318.4,596.0 318.5,597.6 318.6,607.2 318.7,597.7 318.8,602.9 318.8,604.3 318.9,607.4 319.0,601.1 319.1,603.4 319.2,602.8 319.3,601.2 319.3,611.9 319.4,607.0 319.5,611.9 319.6,610.6 319.7,606.5 319.8,611.3 319.8,606.6 319.9,607.7 320.0,611.4 320.1,610.1 320.2,613.8 320.3,614.1 320.4,616.1 320.4,615.8 320.5,616.9 320.6,618.5 320.7,618.8 320.8,617.3 320.9,614.3 320.9,617.0 321.0,610.8 321.1,613.7 321.2,609.8 321.3,613.6 321.4,612.8 321.4,612.7 321.5,616.0 321.6,617.1 321.7,619.1 321.8,611.2 321.9,617.6 322.0,612.0 322.0,614.3 322.1,613.2 322.2,619.2 322.3,612.7 322.4,619.8 322.5,614.1 322.5,618.4 322.6,612.5 322.7,617.7 322.8,619.4 322.9,616.1 323.0,618.4 323.0,619.7 323.1,618.0 323.2,619.8 323.3,614.0 323.4,614.4 323.5,615.6 323.5,614.7 323.6,617.1 323.7,617.6 323.8,615.0 323.9,613.7 324.0,615.0 324.1,611.1 324.1,615.4 324.2,614.0 324.3,612.6 324.4,617.8 324.5,612.4 324.6,612.0 324.6,619.0 324.7,613.8 324.8,616.7 324.9,618.2 325.0,617.3 325.1,616.9 325.1,611.8 325.2,611.9 325.3,613.0 325.4,616.4 325.5,612.4 325.6,617.1 325.6,613.9 325.7,618.3 325.8,611.4 325.9,614.5 326.0,612.9 326.1,618.0 326.2,618.6 326.2,613.4 326.3,611.9 326.4,615.9 326.5,614.2 326.6,613.9 326.7,611.6 326.7,610.5 326.8,612.9 326.9,614.7 327.0,614.9 327.1,610.6 327.2,614.6 327.2,611.8 327.3,617.2 327.4,614.8 327.5,613.6 327.6,609.6 327.7,608.3 327.7,612.9 327.8,610.8 327.9,611.4 328.0,609.3 328.1,610.8 328.2,614.2 328.3,611.6 328.3,613.1 328.4,614.6 328.5,618.2 328.6,617.5 328.7,610.6 328.8,613.4 328.8,613.8 328.9,611.0 329.0,617.0 329.1,611.6 329.2,611.9 329.3,617.0 329.3,611.0 329.4,614.1 329.5,613.1 329.6,616.6 329.7,617.6 329.8,615.0 329.9,615.2 329.9,611.5 330.0,614.1 330.1,610.3 330.2,616.1 330.3,609.5 330.4,611.8 330.4,613.7 330.5,611.9 330.6,615.7 330.7,612.5 330.8,615.7 330.9,613.9 330.9,612.7 331.0,616.3 331.1,611.0 331.2,617.8 331.3,611.4 331.4,612.7 331.4,612.0 331.5,614.5 331.6,612.7 331.7,614.2 331.8,611.3 331.9,612.6 332.0,618.5 332.0,614.0 332.1,619.7 332.2,615.6 332.3,617.2 332.4,615.9 332.5,614.2 332.5,619.0 332.6,617.1 332.7,619.1 332.8,616.6 332.9,617.0 333.0,619.2 333.0,617.4 333.1,614.3 333.2,616.3 333.3,619.8 333.4,617.2 333.5,620.1 333.5,618.0 333.6,617.0 333.7,619.3 333.8,615.3 333.9,618.2 334.0,613.5 334.1,613.3 334.1,614.2 334.2,613.2 334.3,613.9 334.4,612.7 334.5,618.3 334.6,619.6 334.6,617.1 334.7,611.2 334.8,615.4 334.9,614.0 335.0,616.6 335.1,614.5 335.1,612.8 335.2,613.3 335.3,618.9 335.4,614.7 335.5,614.9 335.6,617.9 335.7,618.0 335.7,611.8 335.8,615.0 335.9,614.6 336.0,612.6 336.1,609.1 336.2,614.8 336.2,616.5 336.3,607.6 336.4,609.0 336.5,607.1 336.6,608.9 336.7,609.4 336.7,613.8 336.8,612.0 336.9,604.9 337.0,611.8 337.1,606.7 337.2,607.2 337.2,609.5 337.3,611.7 337.4,607.4 337.5,609.5 337.6,610.4 337.7,608.0 337.8,606.4 337.8,612.4 337.9,607.2 338.0,610.5 338.1,607.8 338.2,609.2 338.3,606.4 338.3,607.5 338.4,610.1 338.5,608.9 338.6,605.3 338.7,606.3 338.8,603.5 338.8,606.6 338.9,608.2 339.0,602.6 339.1,603.7 339.2,606.8 339.3,608.6 339.3,603.2 339.4,609.5 339.5,605.0 339.6,612.7 339.7,612.5 339.8,611.7 339.9,608.0 339.9,610.7 340.0,613.1 340.1,615.8 340.2,615.2 340.3,606.5 340.4,609.2 340.4,608.6 340.5,612.0 340.6,611.2 340.7,611.8 340.8,610.7 340.9,614.2 340.9,610.9 341.0,615.0 341.1,614.8 341.2,612.7 341.3,613.3 341.4,613.1 341.4,613.5 341.5,615.9 341.6,615.6 341.7,619.8 341.8,616.2 341.9,610.9 342.0,618.5 342.0,611.6 342.1,612.3 342.2,613.9 342.3,618.8 342.4,614.5 342.5,613.5 342.5,618.7 342.6,620.6 342.7,618.1 342.8,617.9 342.9,619.2 343.0,620.1 343.0,619.5 343.1,618.2 343.2,615.3 343.3,613.0 343.4,622.5 343.5,615.3 343.6,615.1 343.6,613.4 343.7,617.9 343.8,618.9 343.9,620.4 344.0,619.1 344.1,619.7 344.1,618.9 344.2,617.3 344.3,621.1 344.4,621.7 344.5,619.6 344.6,622.0 344.6,615.4 344.7,616.5 344.8,619.9 344.9,616.0 345.0,613.4 345.1,615.9 345.1,618.8 345.2,617.0 345.3,616.6 345.4,615.2 345.5,619.1 345.6,619.7 345.7,620.3 345.7,621.3 345.8,614.1 345.9,615.5 346.0,618.3 346.1,617.9 346.2,612.9 346.2,622.1 346.3,614.1 346.4,619.0 346.5,616.9 346.6,616.8 346.7,617.3 346.7,619.3 346.8,616.5 346.9,619.8 347.0,619.4 347.1,621.7 347.2,618.1 347.2,616.7 347.3,619.7 347.4,619.4 347.5,613.1 347.6,619.5 347.7,618.4 347.8,617.2 347.8,614.5 347.9,615.1 348.0,616.0 348.1,615.8 348.2,615.3 348.3,619.1 348.3,614.9 348.4,613.1 348.5,611.2 348.6,617.0 348.7,616.3 348.8,617.0 348.8,613.3 348.9,614.4 349.0,618.4 349.1,616.8 349.2,612.3 349.3,614.3 349.4,616.5 349.4,615.3 349.5,614.8 349.6,614.0 349.7,612.6 349.8,612.2 349.9,617.7 349.9,617.3 350.0,612.7 350.1,612.0 350.2,616.6 350.3,614.3 350.4,612.6 350.4,611.5 350.5,611.2 350.6,613.7 350.7,615.0 350.8,613.3 350.9,610.6 350.9,617.6 351.0,611.5 351.1,614.9 351.2,609.4 351.3,616.4 351.4,611.7 351.5,611.3 351.5,611.9 351.6,613.0 351.7,609.5 351.8,616.7 351.9,614.5 352.0,609.6 352.0,614.1 352.1,616.2 352.2,615.6 352.3,616.2 352.4,618.1 352.5,612.8 352.5,618.0 352.6,612.2 352.7,616.5 352.8,615.5 352.9,614.3 353.0,616.8 353.0,613.7 353.1,609.8 353.2,610.7 353.3,612.4 353.4,613.5 353.5,618.8 353.6,616.3 353.6,616.0 353.7,614.2 353.8,613.6 353.9,614.5 354.0,614.8 354.1,618.7 354.1,617.6 354.2,614.1 354.3,616.2 354.4,612.9 354.5,614.9 354.6,615.3 354.6,610.4 354.7,614.2 354.8,612.4 354.9,615.8 355.0,615.5 355.1,612.9 355.1,616.9 355.2,614.1 355.3,611.7 355.4,618.8 355.5,616.0 355.6,616.6 355.7,618.4 355.7,617.5 355.8,617.0 355.9,613.9 356.0,611.6 356.1,619.7 356.2,616.0 356.2,615.4 356.3,616.9 356.4,612.8 356.5,618.1 356.6,619.8 356.7,619.0 356.7,615.1 356.8,613.7 356.9,616.0 357.0,613.3 357.1,620.6 357.2,619.0 357.3,614.2 357.3,618.0 357.4,614.4 357.5,615.2 357.6,616.8 357.7,614.4 357.8,616.7 357.8,614.3 357.9,614.0 358.0,615.7 358.1,618.2 358.2,616.7 358.3,618.8 358.3,612.7 358.4,616.2 358.5,619.9 358.6,615.2 358.7,616.8 358.8,613.8 358.8,613.5 358.9,617.0 359.0,620.4 359.1,618.8 359.2,620.0 359.3,618.2 359.4,617.1 359.4,621.2 359.5,616.6 359.6,615.1 359.7,618.8 359.8,615.7 359.9,614.5 359.9,616.3 360.0,620.3 360.1,613.5 360.2,619.6 360.3,619.1 360.4,613.1 360.4,612.7 360.5,612.7 360.6,618.3 360.7,616.4 360.8,618.3 360.9,617.5 360.9,619.0 361.0,616.0 361.1,612.0 361.2,610.4 361.3,614.5 361.4,616.2 361.5,616.3 361.5,615.9 361.6,615.2 361.7,614.2 361.8,617.3 361.9,613.5 362.0,618.6 362.0,617.8 362.1,613.4 362.2,616.7 362.3,612.6 362.4,611.7 362.5,616.7 362.5,616.4 362.6,613.8 362.7,616.7 362.8,618.6 362.9,613.7 363.0,616.4 363.1,614.2 363.1,617.1 363.2,614.4 363.3,611.1 363.4,618.2 363.5,611.3 363.6,612.5 363.6,616.0 363.7,614.2 363.8,618.0 363.9,619.9 364.0,613.9 364.1,617.4 364.1,611.5 364.2,615.8 364.3,613.8 364.4,613.7 364.5,612.5 364.6,614.4 364.6,618.4 364.7,611.8 364.8,617.9 364.9,616.5 365.0,613.7 365.1,611.6 365.2,617.5 365.2,620.0 365.3,617.3 365.4,611.3 365.5,612.8 365.6,618.4 365.7,613.6 365.7,614.3 365.8,613.3 365.9,612.2 366.0,614.1 366.1,617.3 366.2,617.1 366.2,615.4 366.3,618.3 366.4,617.0 366.5,620.3 366.6,619.6 366.7,620.1 366.7,620.7 366.8,619.3 366.9,620.2 367.0,620.6 367.1,618.4 367.2,615.7 367.3,614.5 367.3,619.2 367.4,618.3 367.5,613.2 367.6,615.1 367.7,618.6 367.8,622.4 367.8,618.0 367.9,620.3 368.0,618.4 368.1,613.5 368.2,614.4 368.3,615.3 368.3,617.5 368.4,614.4 368.5,614.5 368.6,616.8 368.7,617.7 368.8,618.1 368.9,615.8 368.9,620.3 369.0,619.3 369.1,616.2 369.2,620.8 369.3,619.5 369.4,614.1 369.4,615.5 369.5,616.0 369.6,620.3 369.7,620.4 369.8,621.4 369.9,619.2 369.9,620.3 370.0,619.6 370.1,620.4 370.2,612.0 370.3,614.1 370.4,615.2 370.4,614.3 370.5,618.7 370.6,617.6 370.7,616.6 370.8,614.8 370.9,618.6 371.0,618.9 371.0,620.1 371.1,616.9 371.2,612.0 371.3,615.6 371.4,619.0 371.5,617.8 371.5,615.3 371.6,616.4 371.7,616.6 371.8,622.0 371.9,618.6 372.0,618.3 372.0,616.0 372.1,614.4 372.2,613.5 372.3,614.8 372.4,618.6 372.5,614.4 372.5,619.1 372.6,617.8 372.7,618.9 372.8,619.2 372.9,617.7 373.0,614.0 373.1,618.2 373.1,618.3 373.2,614.6 373.3,617.3 373.4,613.4 373.5,620.8 373.6,619.5 373.6,616.3 373.7,620.3 373.8,612.8 373.9,616.1 374.0,617.5 374.1,616.9 374.1,614.7 374.2,616.3 374.3,618.9 374.4,614.7 374.5,619.0 374.6,617.3 374.6,613.8 374.7,617.5 374.8,613.7 374.9,614.1 375.0,612.8 375.1,613.6 375.2,614.0 375.2,615.3 375.3,612.0 375.4,610.1 375.5,610.0 375.6,611.8 375.7,611.3 375.7,616.2 375.8,612.8 375.9,606.1 376.0,608.7 376.1,606.8 376.2,606.8 376.2,611.9 376.3,612.8 376.4,606.5 376.5,605.9 376.6,608.5 376.7,608.9 376.8,608.4 376.8,603.2 376.9,599.5 377.0,608.8 377.1,601.0 377.2,604.7 377.3,601.0 377.3,603.5 377.4,598.0 377.5,602.6 377.6,601.4 377.7,602.9 377.8,601.1 377.8,600.8 377.9,603.9 378.0,608.9 378.1,607.4 378.2,605.8 378.3,600.3 378.3,604.6 378.4,604.9 378.5,609.2 378.6,606.0 378.7,605.5 378.8,603.1 378.9,604.0 378.9,609.4 379.0,607.2 379.1,612.8 379.2,609.0 379.3,608.4 379.4,608.0 379.4,606.4 379.5,609.6 379.6,610.6 379.7,612.3 379.8,608.7 379.9,615.7 379.9,609.9 380.0,614.5 380.1,616.7 380.2,612.9 380.3,614.1 380.4,614.6 380.4,611.9 380.5,617.4 380.6,619.5 380.7,615.3 380.8,620.7 380.9,613.3 381.0,612.5 381.0,618.6 381.1,613.7 381.2,616.8 381.3,615.3 381.4,617.7 381.5,614.7 381.5,618.8 381.6,614.1 381.7,617.8 381.8,617.9 381.9,614.0 382.0,620.0 382.0,619.4 382.1,616.3 382.2,613.6 382.3,614.8 382.4,614.4 382.5,620.2 382.6,621.1 382.6,614.4 382.7,615.5 382.8,612.8 382.9,617.2 383.0,617.8 383.1,618.8 383.1,620.1 383.2,613.6 383.3,614.7 383.4,619.5 383.5,616.2 383.6,613.8 383.6,614.1 383.7,618.0 383.8,619.9 383.9,618.7 384.0,620.3 384.1,617.3 384.1,616.7 384.2,617.9 384.3,620.0 384.4,618.3 384.5,617.6 384.6,613.4 384.7,613.1 384.7,614.9 384.8,617.1 384.9,613.1 385.0,619.3 385.1,621.4 385.2,618.2 385.2,617.9 385.3,619.0 385.4,614.5 385.5,616.2 385.6,615.0 385.7,618.6 385.7,616.4 385.8,614.6 385.9,614.0 386.0,617.9 386.1,614.1 386.2,613.1 386.2,619.7 386.3,617.4 386.4,618.1 386.5,614.2 386.6,615.5 386.7,618.6 386.8,615.9 386.8,615.0 386.9,619.2 387.0,615.0 387.1,616.3 387.2,614.9 387.3,619.4 387.3,612.5 387.4,619.3 387.5,614.6 387.6,618.1 387.7,619.9 387.8,621.3 387.8,617.3 387.9,613.0 388.0,615.7 388.1,619.6 388.2,621.5 388.3,612.6 388.3,617.1 388.4,614.9 388.5,615.1 388.6,613.8 388.7,614.9 388.8,617.1 388.9,618.4 388.9,621.1 389.0,613.6 389.1,620.9 389.2,612.8 389.3,621.5 389.4,617.1 389.4,614.1 389.5,615.7 389.6,617.4 389.7,617.5 389.8,620.4 389.9,613.7 389.9,615.5 390.0,614.1 390.1,614.3 390.2,618.7 390.3,615.9 390.4,618.0 390.5,619.9 390.5,616.4 390.6,611.4 390.7,620.1 390.8,615.4 390.9,620.0 391.0,618.6 391.0,615.2 391.1,619.9 391.2,621.2 391.3,619.2 391.4,617.0 391.5,615.5 391.5,617.1 391.6,616.2 391.7,619.0 391.8,619.4 391.9,617.8 392.0,616.5 392.0,619.0 392.1,620.8 392.2,617.0 392.3,616.0 392.4,618.2 392.5,614.0 392.6,619.4 392.6,615.7 392.7,618.2 392.8,620.5 392.9,618.3 393.0,619.3 393.1,616.6 393.1,615.2 393.2,614.5 393.3,615.1 393.4,619.7 393.5,615.3 393.6,614.5 393.6,618.2 393.7,616.4 393.8,616.5 393.9,616.1 394.0,620.3 394.1,619.3 394.1,617.9 394.2,615.7 394.3,619.4 394.4,617.3 394.5,620.4 394.6,614.5 394.7,612.1 394.7,614.6 394.8,616.9 394.9,615.3 395.0,614.4 395.1,618.4 395.2,619.2 395.2,613.3 395.3,615.3 395.4,614.7 395.5,616.9 395.6,615.9 395.7,618.1 395.7,614.9 395.8,614.3 395.9,620.7 396.0,617.6 396.1,610.3 396.2,612.2 396.3,616.6 396.3,615.4 396.4,612.7 396.5,609.7 396.6,617.4 396.7,612.3 396.8,612.5 396.8,612.5 396.9,615.4 397.0,615.7 397.1,611.9 397.2,614.9 397.3,612.2 397.3,614.0 397.4,612.0 397.5,608.7 397.6,610.1 397.7,613.8 397.8,611.1 397.8,614.7 397.9,610.2 398.0,608.5 398.1,606.8 398.2,604.7 398.3,610.6 398.4,606.8 398.4,606.7 398.5,603.2 398.6,603.3 398.7,606.6 398.8,606.2 398.9,605.8 398.9,599.5 399.0,603.0 399.1,602.1 399.2,595.1 399.3,592.4 399.4,596.0 399.4,592.0 399.5,594.5 399.6,593.7 399.7,589.1 399.8,590.8 399.9,586.9 399.9,582.6 400.0,576.8 400.1,578.9 400.2,582.0 400.3,578.0 400.4,577.7 400.5,575.5 400.5,568.1 400.6,571.2 400.7,566.3 400.8,564.0 400.9,564.7 401.0,561.8 401.0,560.4 401.1,553.0 401.2,556.0 401.3,553.6 401.4,550.3 401.5,548.0 401.5,547.6 401.6,547.7 401.7,545.1 401.8,544.4 401.9,541.0 402.0,541.1 402.0,538.6 402.1,542.2 402.2,542.5 402.3,542.6 402.4,541.1 402.5,538.1 402.6,543.0 402.6,542.5 402.7,546.2 402.8,544.4 402.9,549.0 403.0,547.3 403.1,551.9 403.1,554.1 403.2,556.1 403.3,558.1 403.4,560.1 403.5,560.6 403.6,564.4 403.6,561.2 403.7,563.7 403.8,568.5 403.9,568.3 404.0,575.0 404.1,577.2 404.2,572.2 404.2,574.5 404.3,585.5 404.4,581.8 404.5,589.9 404.6,583.7 404.7,584.0 404.7,593.1 404.8,588.0 404.9,591.7 405.0,597.5 405.1,597.2 405.2,597.2 405.2,600.7 405.3,597.9 405.4,602.7 405.5,598.3 405.6,603.5 405.7,605.0 405.7,601.8 405.8,609.2 405.9,607.2 406.0,607.5 406.1,605.0 406.2,607.6 406.3,605.9 406.3,608.3 406.4,606.6 406.5,606.8 406.6,608.4 406.7,608.1 406.8,611.0 406.8,608.9 406.9,610.0 407.0,615.8 407.1,613.6 407.2,608.0 407.3,613.3 407.3,613.0 407.4,615.0 407.5,612.1 407.6,615.2 407.7,615.5 407.8,611.1 407.8,608.7 407.9,612.1 408.0,618.4 408.1,617.8 408.2,615.5 408.3,612.0 408.4,612.0 408.4,613.2 408.5,618.8 408.6,612.4 408.7,613.3 408.8,615.0 408.9,617.2 408.9,614.5 409.0,616.8 409.1,616.4 409.2,618.4 409.3,616.8 409.4,613.8 409.4,616.3 409.5,614.1 409.6,616.5 409.7,617.8 409.8,612.1 409.9,612.8 410.0,615.2 410.0,609.8 410.1,616.0 410.2,612.6 410.3,612.3 410.4,614.5 410.5,612.8 410.5,618.1 410.6,621.1 410.7,615.5 410.8,617.1 410.9,619.5 411.0,614.1 411.0,619.3 411.1,616.5 411.2,615.6 411.3,613.7 411.4,620.5 411.5,619.6 411.5,615.0 411.6,614.5 411.7,613.9 411.8,616.3 411.9,617.4 412.0,614.6 412.1,617.2 412.1,613.7 412.2,617.4 412.3,620.9 412.4,620.9 412.5,614.7 412.6,619.7 412.6,619.0 412.7,620.2 412.8,617.8 412.9,614.8 413.0,621.2 413.1,615.8 413.1,617.0 413.2,613.7 413.3,614.0 413.4,612.9 413.5,620.7 413.6,615.6 413.6,619.8 413.7,619.1 413.8,619.4 413.9,613.1 414.0,614.0 414.1,615.6 414.2,618.7 414.2,620.6 414.3,614.8 414.4,616.7 414.5,615.7 414.6,616.3 414.7,617.0 414.7,617.1 414.8,614.6 414.9,618.1 415.0,620.3 415.1,618.0 415.2,614.9 415.2,616.2 415.3,615.7 415.4,615.8 415.5,616.3 415.6,616.6 415.7,619.6 415.8,620.3 415.8,620.1 415.9,619.0 416.0,618.0 416.1,618.9 416.2,615.8 416.3,620.3 416.3,620.7 416.4,618.6 416.5,618.5 416.6,620.6 416.7,619.3 416.8,617.9 416.8,614.0 416.9,617.9 417.0,619.8 417.1,614.1 417.2,615.6 417.3,614.8 417.3,619.7 417.4,620.1 417.5,615.9 417.6,615.2 417.7,616.9 417.8,621.3 417.9,618.2 417.9,620.9 418.0,615.3 418.1,620.3 418.2,616.0 418.3,616.0 418.4,617.0 418.4,615.2 418.5,619.4 418.6,622.4 418.7,615.3 418.8,619.8 418.9,623.0 418.9,619.8 419.0,616.6 419.1,617.5 419.2,615.7 419.3,620.9 419.4,620.9 419.4,615.3 419.5,618.8 419.6,621.3 419.7,621.9 419.8,615.5 419.9,622.5 420.0,617.7 420.0,617.2 420.1,620.7 420.2,615.4 420.3,615.3 420.4,622.0 420.5,619.4 420.5,617.0 420.6,618.2 420.7,614.2 420.8,621.1 420.9,617.2 421.0,615.0 421.0,614.5 421.1,617.0 421.2,614.4 421.3,617.8 421.4,616.3 421.5,621.7 421.5,618.8 421.6,619.1 421.7,615.7 421.8,619.3 421.9,621.2 422.0,617.8 422.1,613.9 422.1,615.6 422.2,617.5 422.3,618.7 422.4,616.3 422.5,619.3 422.6,620.2 422.6,616.1 422.7,620.8 422.8,620.3 422.9,615.0 423.0,618.3 423.1,621.7 423.1,617.2 423.2,620.0 423.3,613.4 423.4,617.0 423.5,617.8 423.6,613.7 423.7,617.5 423.7,616.2 423.8,617.5 423.9,614.5 424.0,616.0 424.1,617.5 424.2,613.8 424.2,617.8 424.3,618.5 424.4,615.4 424.5,616.4 424.6,616.3 424.7,617.4 424.7,617.4 424.8,616.2 424.9,620.7 425.0,614.0 425.1,616.4 425.2,617.6 425.2,613.9 425.3,617.1 425.4,622.3 425.5,615.5 425.6,615.6 425.7,614.8 425.8,620.3 425.8,616.1 425.9,615.7 426.0,616.9 426.1,616.2 426.2,621.6 426.3,620.5 426.3,619.1 426.4,615.5 426.5,616.3 426.6,622.3 426.7,616.4 426.8,616.9 426.8,616.4 426.9,616.8 427.0,617.8 427.1,618.7 427.2,621.6 427.3,618.5 427.3,616.4 427.4,614.6 427.5,621.9 427.6,616.9 427.7,620.7 427.8,617.6 427.9,620.7 427.9,621.0 428.0,617.3 428.1,619.2 428.2,619.9 428.3,616.2 428.4,618.4 428.4,620.8 428.5,621.5 428.6,618.6 428.7,622.4 428.8,616.1 428.9,616.9 428.9,621.8 429.0,621.6 429.1,621.1 429.2,618.7 429.3,620.7 429.4,617.0 429.5,620.5 429.5,616.4 429.6,618.7 429.7,620.5 429.8,619.3 429.9,615.3 430.0,615.9 430.0,615.4 430.1,615.2 430.2,621.4 430.3,620.4 430.4,618.7 430.5,620.4 430.5,616.6 430.6,618.8 430.7,615.0 430.8,622.3 430.9,616.1 431.0,618.8 431.0,615.3 431.1,613.8 431.2,617.3 431.3,621.9 431.4,619.6 431.5,616.6 431.6,619.3 431.6,617.3 431.7,615.4 431.8,615.5 431.9,614.9 432.0,616.3 432.1,619.3 432.1,612.8 432.2,618.0 432.3,619.6 432.4,613.4 432.5,614.0 432.6,617.6 432.6,614.4 432.7,614.0 432.8,618.0 432.9,616.5 433.0,616.8 433.1,616.7 433.1,615.9 433.2,616.2 433.3,621.2 433.4,622.2 433.5,617.9 433.6,619.9 433.7,615.5 433.7,621.3 433.8,620.8 433.9,617.3 434.0,616.4 434.1,617.6 434.2,617.6 434.2,619.0 434.3,619.2 434.4,618.8 434.5,616.2 434.6,617.6 434.7,622.8 434.7,619.3 434.8,615.8 434.9,619.5 435.0,617.2 435.1,617.8 435.2,620.3 435.2,620.8 435.3,619.9 435.4,621.7 435.5,614.4 435.6,615.2 435.7,618.6 435.8,616.6 435.8,615.8 435.9,615.6 436.0,615.1 436.1,618.6 436.2,620.6 436.3,615.9 436.3,621.0 436.4,622.5 436.5,616.2 436.6,616.4 436.7,618.8 436.8,615.9 436.8,615.0 436.9,619.3 437.0,620.8 437.1,621.8 437.2,619.8 437.3,620.1 437.4,620.6 437.4,619.4 437.5,618.5 437.6,616.8 437.7,615.5 437.8,616.4 437.9,615.2 437.9,620.8 438.0,618.1 438.1,619.7 438.2,618.9 438.3,620.1 438.4,617.4 438.4,617.5 438.5,620.2 438.6,620.7 438.7,619.9 438.8,619.2 438.9,614.9 438.9,621.1 439.0,621.2 439.1,615.7 439.2,620.1 439.3,618.8 439.4,617.1 439.5,619.9 439.5,614.3 439.6,619.5 439.7,618.9 439.8,614.6 439.9,619.2 440.0,618.9 440.0,620.8 440.1,615.6 440.2,619.3 440.3,619.7 440.4,621.9 440.5,622.9 440.5,619.8 440.6,619.9 440.7,615.8 440.8,617.2 440.9,621.4 441.0,618.3 441.0,619.8 441.1,616.1 441.2,613.2 441.3,618.0 441.4,616.9 441.5,620.8 441.6,621.6 441.6,618.7 441.7,621.9 441.8,618.8 441.9,616.8 442.0,621.2 442.1,616.6 442.1,620.7 442.2,617.4 442.3,620.3 442.4,619.1 442.5,619.3 442.6,622.1 442.6,618.0 442.7,620.5 442.8,618.3 442.9,620.1 443.0,617.2 443.1,619.9 443.2,620.6 443.2,617.7 443.3,618.6 443.4,621.1 443.5,621.1 443.6,620.2 443.7,616.1 443.7,620.9 443.8,620.7 443.9,617.3 444.0,620.4 444.1,619.3 444.2,616.3 444.2,617.5 444.3,616.1 444.4,620.8 444.5,616.5 444.6,617.9 444.7,620.3 444.7,617.2 444.8,618.6 444.9,621.0 445.0,620.2 445.1,616.8 445.2,620.0 445.3,621.3 445.3,618.6 445.4,618.3 445.5,620.3 445.6,616.7 445.7,617.4 445.8,618.7 445.8,618.4 445.9,619.3 446.0,614.0 446.1,613.7 446.2,617.4 446.3,620.0 446.3,616.9 446.4,619.7 446.5,619.6 446.6,618.6 446.7,622.2 446.8,621.6 446.8,617.8 446.9,615.2 447.0,615.0 447.1,615.5 447.2,619.3 447.3,622.7 447.4,615.4 447.4,621.0 447.5,616.0 447.6,615.1 447.7,620.8 447.8,615.1 447.9,616.6 447.9,618.6 448.0,614.9 448.1,618.4 448.2,615.0 448.3,618.5 448.4,613.0 448.4,615.9 448.5,615.8 448.6,620.5 448.7,612.9 448.8,614.3 448.9,612.0 448.9,609.9 449.0,614.5 449.1,615.4 449.2,618.2 449.3,614.6 449.4,614.2 449.5,616.4 449.5,613.7 449.6,609.2 449.7,608.5 449.8,611.0 449.9,606.5 450.0,609.0 450.0,612.2 450.1,608.9 450.2,607.1 450.3,605.9 450.4,602.6 450.5,607.5 450.5,608.6 450.6,605.3 450.7,605.4 450.8,601.6 450.9,600.4 451.0,602.9 451.1,600.6 451.1,597.1 451.2,595.0 451.3,602.5 451.4,598.6 451.5,597.3 451.6,595.3 451.6,594.7 451.7,596.3 451.8,595.0 451.9,593.2 452.0,598.2 452.1,596.8 452.1,590.9 452.2,593.4 452.3,590.9 452.4,591.4 452.5,591.9 452.6,599.9 452.6,600.3 452.7,599.7 452.8,599.0 452.9,603.2 453.0,597.2 453.1,596.7 453.2,598.2 453.2,600.1 453.3,601.9 453.4,603.8 453.5,599.6 453.6,603.8 453.7,601.8 453.7,607.0 453.8,611.9 453.9,612.4 454.0,613.5 454.1,605.4 454.2,614.5 454.2,611.7 454.3,610.6 454.4,609.6 454.5,613.4 454.6,612.3 454.7,613.7 454.7,611.6 454.8,617.7 454.9,617.1 455.0,618.2 455.1,613.5 455.2,615.8 455.3,620.7 455.3,613.2 455.4,619.0 455.5,618.6 455.6,612.8 455.7,615.0 455.8,616.0 455.8,616.7 455.9,618.6 456.0,615.1 456.1,618.9 456.2,618.5 456.3,616.7 456.3,617.5 456.4,613.6 456.5,619.6 456.6,620.1 456.7,616.5 456.8,620.6 456.9,620.3 456.9,616.4 457.0,621.2 457.1,620.9 457.2,615.5 457.3,618.5 457.4,621.1 457.4,621.0 457.5,616.6 457.6,617.8 457.7,616.8 457.8,615.6 457.9,612.0 457.9,615.7 458.0,618.7 458.1,616.9 458.2,614.3 458.3,614.9 458.4,619.2 458.4,614.2 458.5,615.6 458.6,617.0 458.7,616.7 458.8,618.9 458.9,620.4 459.0,614.6 459.0,615.2 459.1,620.9 459.2,620.9 459.3,614.1 459.4,620.9 459.5,619.5 459.5,616.5 459.6,616.9 459.7,612.4 459.8,619.9 459.9,617.8 460.0,621.2 460.0,619.7 460.1,616.3 460.2,617.3 460.3,617.0 460.4,615.8 460.5,618.5 460.5,619.4 460.6,617.4 460.7,615.0 460.8,617.8 460.9,619.8 461.0,618.9 461.1,619.1 461.1,620.9 461.2,612.7 461.3,621.2 461.4,616.4 461.5,616.6 461.6,614.1 461.6,619.6 461.7,615.0 461.8,619.6 461.9,620.3 462.0,618.9 462.1,615.0 462.1,617.7 462.2,615.3 462.3,617.1 462.4,619.8 462.5,620.8 462.6,620.0 462.6,620.7 462.7,613.0 462.8,617.0 462.9,613.1 463.0,614.1 463.1,614.1 463.2,619.2 463.2,621.5 463.3,616.4 463.4,618.5 463.5,617.4 463.6,614.4 463.7,616.5 463.7,615.0 463.8,615.6 463.9,618.4 464.0,618.2 464.1,615.6 464.2,613.4 464.2,615.5 464.3,615.7 464.4,620.3 464.5,620.6 464.6,617.4 464.7,617.8 464.8,612.4 464.8,620.4 464.9,613.9 465.0,614.8 465.1,621.5 465.2,619.4 465.3,615.4 465.3,617.0 465.4,620.9 465.5,614.2 465.6,614.2 465.7,617.9 465.8,621.3 465.8,614.7 465.9,618.5 466.0,615.2 466.1,617.1 466.2,620.6 466.3,613.6 466.3,618.2 466.4,617.1 466.5,619.6 466.6,618.7 466.7,614.4 466.8,620.4 466.9,617.1 466.9,613.5 467.0,614.3 467.1,619.0 467.2,620.4 467.3,615.5 467.4,620.5 467.4,613.6 467.5,620.5 467.6,613.0 467.7,615.4 467.8,616.0 467.9,617.0 467.9,618.4 468.0,614.0 468.1,616.0 468.2,614.2 468.3,614.6 468.4,612.3 468.4,615.3 468.5,612.0 468.6,618.3 468.7,615.0 468.8,612.9 468.9,616.8 469.0,612.1 469.0,615.6 469.1,608.9 469.2,610.5 469.3,610.4 469.4,609.4 469.5,608.1 469.5,611.4 469.6,606.8 469.7,614.6 469.8,609.3 469.9,613.7 470.0,609.8 470.0,607.5 470.1,607.5 470.2,612.9 470.3,608.9 470.4,606.8 470.5,611.1 470.6,611.3 470.6,609.2 470.7,605.2 470.8,608.5 470.9,606.3 471.0,612.3 471.1,604.8 471.1,607.0 471.2,612.6 471.3,611.6 471.4,609.0 471.5,606.7 471.6,607.6 471.6,612.6 471.7,611.7 471.8,610.9 471.9,614.6 472.0,613.9 472.1,612.0 472.1,613.7 472.2,610.5 472.3,611.9 472.4,610.0 472.5,613.9 472.6,613.3 472.7,610.5 472.7,612.4 472.8,613.7 472.9,615.1 473.0,618.1 473.1,610.6 473.2,615.3 473.2,610.9 473.3,617.8 473.4,614.0 473.5,613.7 473.6,613.7 473.7,618.0 473.7,613.9 473.8,619.4 473.9,611.9 474.0,619.9 474.1,615.8 474.2,613.2 474.2,618.1 474.3,615.3 474.4,616.5 474.5,617.0 474.6,616.0 474.7,618.5 474.8,620.1 474.8,617.1 474.9,615.1 475.0,616.6 475.1,613.6 475.2,621.8 475.3,621.0 475.3,616.3 475.4,622.4 475.5,619.7 475.6,622.6 475.7,619.2 475.8,615.8 475.8,620.7 475.9,622.1 476.0,620.3 476.1,616.9 476.2,618.8 476.3,616.9 476.4,614.7 476.4,620.4 476.5,619.6 476.6,617.2 476.7,622.2 476.8,618.1 476.9,616.7 476.9,619.2 477.0,617.1 477.1,616.4 477.2,615.4 477.3,619.8 477.4,621.4 477.4,618.0 477.5,623.1 477.6,618.5 477.7,615.1 477.8,613.9 477.9,616.8 477.9,619.7 478.0,620.1 478.1,620.7 478.2,619.0 478.3,614.7 478.4,616.8 478.5,617.6 478.5,615.2 478.6,618.0 478.7,616.1 478.8,614.3 478.9,623.1 479.0,616.7 479.0,615.8 479.1,617.7 479.2,614.3 479.3,619.1 479.4,616.3 479.5,620.5 479.5,612.8 479.6,616.4 479.7,618.5 479.8,615.8 479.9,615.0 480.0,620.2 480.0,618.6 480.1,616.0 480.2,617.5 480.3,617.2 480.4,614.1 480.5,622.0 480.6,620.2 480.6,620.4 480.7,620.2 480.8,615.1 480.9,614.6 481.0,618.3 481.1,618.4 481.1,617.4 481.2,613.9 481.3,620.7 481.4,616.6 481.5,612.9 481.6,615.9 481.6,614.9 481.7,616.1 481.8,619.6 481.9,612.4 482.0,621.1 482.1,613.8 482.1,618.0 482.2,614.4 482.3,619.1 482.4,612.3 482.5,614.6 482.6,622.7 482.7,618.4 482.7,619.1 482.8,619.1 482.9,617.0 483.0,619.8 483.1,613.9 483.2,619.1 483.2,616.2 483.3,618.2 483.4,614.8 483.5,615.6 483.6,620.5 483.7,620.4 483.7,612.8 483.8,613.9 483.9,613.6 484.0,615.2 484.1,614.5 484.2,620.2 484.3,617.5 484.3,615.7 484.4,616.7 484.5,617.4 484.6,620.6 484.7,617.0 484.8,614.6 484.8,616.0 484.9,615.0 485.0,612.0 485.1,613.4 485.2,613.5 485.3,614.0 485.3,618.3 485.4,613.3 485.5,616.9 485.6,620.5 485.7,618.7 485.8,613.1 485.8,613.7 485.9,614.7 486.0,614.7 486.1,613.2 486.2,617.6 486.3,620.7 486.4,620.6 486.4,615.6 486.5,617.3 486.6,619.8 486.7,619.7 486.8,619.1 486.9,616.2 486.9,613.7 487.0,617.1 487.1,619.8 487.2,617.7 487.3,616.4 487.4,614.5 487.4,617.5 487.5,612.1 487.6,616.1 487.7,614.5 487.8,620.2 487.9,616.8 487.9,616.4 488.0,613.2 488.1,614.6 488.2,614.1 488.3,616.0 488.4,619.9 488.5,615.6 488.5,620.3 488.6,613.0 488.7,620.2 488.8,618.5 488.9,616.3 489.0,619.3 489.0,619.4 489.1,620.4 489.2,621.5 489.3,616.0 489.4,617.9 489.5,615.1 489.5,616.5 489.6,614.5 489.7,621.6 489.8,614.6 489.9,619.6 490.0,618.6 490.1,616.3 490.1,615.6 490.2,617.4 490.3,615.0 490.4,616.4 490.5,614.5 490.6,615.0 490.6,615.0 490.7,613.4 490.8,614.8 490.9,615.5 491.0,615.0 491.1,616.2 491.1,620.5 491.2,615.2 491.3,618.6 491.4,619.0 491.5,619.5 491.6,619.9 491.6,621.4 491.7,617.0 491.8,615.8 491.9,618.4 492.0,621.8 492.1,617.3 492.2,617.9 492.2,616.4 492.3,620.6 492.4,617.4 492.5,619.0 492.6,618.5 492.7,620.2 492.7,618.0 492.8,618.5 492.9,614.6 493.0,621.5 493.1,616.4 493.2,615.7 493.2,618.5 493.3,617.9 493.4,614.4 493.5,620.7 493.6,618.7 493.7,616.8 493.7,621.0 493.8,615.6 493.9,621.1 494.0,615.9 494.1,613.0 494.2,621.4 494.3,622.0 494.3,616.0 494.4,621.4 494.5,620.2 494.6,621.0 494.7,618.5 494.8,614.5 494.8,616.1 494.9,619.2 495.0,619.6 495.1,614.8 495.2,615.5 495.3,617.0 495.3,616.3 495.4,615.7 495.5,620.9 495.6,616.6 495.7,618.9 495.8,615.8 495.8,616.7 495.9,616.1 496.0,614.0 496.1,615.1 496.2,617.7 496.3,619.0 496.4,616.0 496.4,614.1 496.5,619.9 496.6,612.0 496.7,615.1 496.8,616.5 496.9,615.6 496.9,610.0 497.0,612.8 497.1,611.5 497.2,613.1 497.3,616.9 497.4,609.4 497.4,613.2 497.5,615.4 497.6,617.2 497.7,611.8 497.8,614.4 497.9,610.2 498.0,607.9 498.0,612.2 498.1,608.2 498.2,616.5 498.3,611.2 498.4,614.3 498.5,612.2 498.5,606.0 498.6,615.3 498.7,609.0 498.8,607.8 498.9,609.3 499.0,611.4 499.0,607.5 499.1,607.2 499.2,607.3 499.3,608.1 499.4,604.8 499.5,606.3 499.5,606.8 499.6,603.6 499.7,606.5 499.8,608.8 499.9,603.0 500.0,604.8 500.1,602.2 500.1,605.2 500.2,604.8 500.3,605.3 500.4,608.4 500.5,610.4 500.6,609.0 500.6,606.2 500.7,609.0 500.8,606.9 500.9,608.4 501.0,603.5 501.1,607.6 501.1,607.9 501.2,609.6 501.3,607.2 501.4,613.6 501.5,610.7 501.6,610.5 501.6,606.7 501.7,615.0 501.8,613.4 501.9,613.3 502.0,614.3 502.1,613.9 502.2,609.8 502.2,613.4 502.3,609.4 502.4,613.7 502.5,618.3 502.6,612.4 502.7,617.8 502.7,612.1 502.8,613.8 502.9,615.2 503.0,614.4 503.1,613.4 503.2,612.3 503.2,615.7 503.3,616.1 503.4,618.0 503.5,618.5 503.6,613.4 503.7,618.3 503.8,616.9 503.8,620.2 503.9,618.2 504.0,617.6 504.1,614.2 504.2,614.4 504.3,614.0 504.3,616.3 504.4,614.4 504.5,621.4 504.6,615.9 504.7,617.4 504.8,619.5 504.8,621.2 504.9,613.2 505.0,613.6 505.1,615.6 505.2,621.1 505.3,615.4 505.3,617.0 505.4,621.5 505.5,617.3 505.6,621.0 505.7,615.5 505.8,617.0 505.9,621.0 505.9,621.0 506.0,615.9 506.1,615.5 506.2,615.9 506.3,621.8 506.4,615.7 506.4,612.9 506.5,618.5 506.6,620.0 506.7,615.1 506.8,617.3 506.9,621.1 506.9,619.9 507.0,619.8 507.1,615.6 507.2,615.9 507.3,614.3 507.4,619.1 507.4,617.1 507.5,615.2 507.6,617.2 507.7,614.5 507.8,618.5 507.9,621.7 508.0,617.8 508.0,615.7 508.1,619.2 508.2,617.7 508.3,618.0 508.4,614.6 508.5,615.6 508.5,616.3 508.6,621.2 508.7,618.8 508.8,618.2 508.9,616.6 509.0,618.9 509.0,619.2 509.1,620.7 509.2,619.5 509.3,615.1 509.4,616.5 509.5,617.6 509.5,616.7 509.6,616.1 509.7,614.8 509.8,617.5 509.9,616.3 510.0,614.0 510.1,616.6 510.1,615.8 510.2,619.0 510.3,620.7 510.4,614.7 510.5,615.0 510.6,616.9 510.6,616.1 510.7,614.2 510.8,616.5 510.9,615.0 511.0,620.3 511.1,614.4 511.1,615.2 511.2,615.5 511.3,613.3 511.4,616.3 511.5,619.9 511.6,620.9 511.7,621.4 511.7,619.3 511.8,618.2 511.9,613.7 512.0,613.5 512.1,620.6 512.2,618.3 512.2,618.8 512.3,614.8 512.4,614.1 512.5,619.3 512.6,617.8 512.7,619.2 512.7,616.5 512.8,617.3 512.9,616.8 513.0,618.6 513.1,617.9 513.2,616.5 513.2,620.9 513.3,615.9 513.4,616.4 513.5,615.2 513.6,613.8 513.7,619.1 513.8,618.0 513.8,612.4 513.9,616.3 514.0,611.4 514.1,614.7 514.2,614.7 514.3,614.2 514.3,610.8 514.4,612.3 514.5,611.9 514.6,617.5 514.7,616.6 514.8,609.1 514.8,615.4 514.9,611.7 515.0,609.6 515.1,616.8 515.2,611.1 515.3,611.1 515.3,617.4 515.4,615.5 515.5,617.1 515.6,615.9 515.7,615.8 515.8,616.2 515.9,609.7 515.9,610.4 516.0,614.0 516.1,614.4 516.2,612.7 516.3,611.1 516.4,613.3 516.4,614.6 516.5,618.6 516.6,616.8 516.7,615.9 516.8,608.2 516.9,613.5 516.9,611.5 517.0,615.0 517.1,612.7 517.2,613.1 517.3,611.7 517.4,612.6 517.5,614.8 517.5,613.6 517.6,615.5 517.7,611.6 517.8,614.8 517.9,613.7 518.0,616.4 518.0,613.2 518.1,619.2 518.2,618.2 518.3,618.7 518.4,613.1 518.5,617.3 518.5,615.6 518.6,617.7 518.7,617.5 518.8,617.2 518.9,618.5 519.0,617.7 519.0,620.8 519.1,616.5 519.2,614.4 519.3,619.0 519.4,617.6 519.5,620.7 519.6,615.1 519.6,615.4 519.7,619.5 519.8,614.7 519.9,617.4 520.0,617.4 520.1,615.2 520.1,616.0 520.2,616.4 520.3,619.5 520.4,621.4 520.5,615.2 520.6,619.8 520.6,615.6 520.7,618.7 520.8,616.7 520.9,617.9 521.0,614.8 521.1,615.8 521.1,615.1 521.2,622.1 521.3,616.4 521.4,622.0 521.5,620.3 521.6,615.1 521.7,616.5 521.7,617.1 521.8,617.6 521.9,613.4 522.0,614.8 522.1,617.0 522.2,620.8 522.2,622.0 522.3,615.4 522.4,617.3 522.5,616.2 522.6,618.7 522.7,619.7 522.7,618.9 522.8,614.8 522.9,618.8 523.0,621.6 523.1,618.3 523.2,616.1 523.2,616.8 523.3,619.3 523.4,616.6 523.5,619.7 523.6,620.4 523.7,616.0 523.8,618.1 523.8,616.0 523.9,621.7 524.0,612.9 524.1,618.7 524.2,620.2 524.3,615.2 524.3,616.9 524.4,620.6 524.5,617.2 524.6,616.8 524.7,618.6 524.8,623.8 524.8,615.2 524.9,616.4 525.0,614.5 525.1,617.6 525.2,621.0 525.3,619.6 525.4,614.8 525.4,616.2 525.5,619.9 525.6,616.5 525.7,616.9 525.8,619.5 525.9,620.4 525.9,620.0 526.0,619.5 526.1,617.2 526.2,617.8 526.3,620.9 526.4,616.0 526.4,621.2 526.5,619.6 526.6,621.4 526.7,619.1 526.8,618.0 526.9,620.0 526.9,618.9 527.0,621.4 527.1,616.5 527.2,620.3 527.3,616.5 527.4,614.7 527.5,616.7 527.5,617.2 527.6,618.5 527.7,617.6 527.8,620.5 527.9,618.9 528.0,619.9 528.0,619.1 528.1,615.7 528.2,618.8 528.3,622.7 528.4,619.7 528.5,616.5 528.5,621.3 528.6,616.8 528.7,622.5 528.8,621.8 528.9,619.8 529.0,620.7 529.0,616.7 529.1,622.9 529.2,617.5 529.3,615.1 529.4,623.5 529.5,621.6 529.6,620.3 529.6,622.3 529.7,618.8 529.8,616.9 529.9,617.4 530.0,621.0 530.1,617.6 530.1,620.0 530.2,620.8 530.3,620.2 530.4,621.8 530.5,617.1 530.6,621.7 530.6,619.0 530.7,621.3 530.8,620.0 530.9,621.8 531.0,616.2 531.1,620.5 531.2,620.2 531.2,622.3 531.3,617.2 531.4,621.5 531.5,617.4 531.6,618.9 531.7,620.9 531.7,621.0 531.8,620.1 531.9,619.6 532.0,622.3 532.1,616.1 532.2,615.0 532.2,615.7 532.3,617.0 532.4,615.1 532.5,619.3 532.6,622.2 532.7,620.0 532.7,618.1 532.8,618.7 532.9,617.5 533.0,615.4 533.1,620.1 533.2,619.8 533.3,619.9 533.3,621.1 533.4,619.8 533.5,619.4 533.6,622.6 533.7,619.9 533.8,620.0 533.8,620.6 533.9,618.5 534.0,615.2 534.1,617.8 534.2,619.3 534.3,618.2 534.3,618.8 534.4,620.6 534.5,622.3 534.6,616.1 534.7,620.2 534.8,623.3 534.8,616.5 534.9,618.0 535.0,621.0 535.1,620.8 535.2,617.0 535.3,620.7 535.4,621.1 535.4,621.6 535.5,618.3 535.6,621.2 535.7,619.9 535.8,616.6 535.9,614.0 535.9,618.7 536.0,621.5 536.1,619.2 536.2,621.0 536.3,618.4 536.4,615.3 536.4,620.8 536.5,621.6 536.6,619.7 536.7,618.4 536.8,616.8 536.9,614.7 537.0,615.0 537.0,622.1 537.1,614.7 537.2,619.6 537.3,619.5 537.4,617.4 537.5,614.4 537.5,617.9 537.6,617.1 537.7,616.6 537.8,620.5 537.9,620.3 538.0,621.8 538.0,621.8 538.1,622.0 538.2,621.2 538.3,625.4 538.4,616.7 538.5,618.2 538.5,617.4 538.6,618.2 538.7,621.1 538.8,618.9 538.9,616.4 539.0,616.9 539.1,616.6 539.1,615.0 539.2,621.8 539.3,621.4 539.4,618.5 539.5,620.0 539.6,618.0 539.6,617.2 539.7,621.2 539.8,615.6 539.9,616.9 540.0,621.2 540.1,617.9 540.1,617.3 540.2,621.0 540.3,616.8 540.4,617.8 540.5,616.1 540.6,621.8 540.6,621.9 540.7,615.1 540.8,623.2 540.9,619.6 541.0,619.8 541.1,614.9 541.2,618.4 541.2,616.1 541.3,618.6 541.4,616.2 541.5,622.0 541.6,615.8 541.7,616.8 541.7,619.9 541.8,613.9 541.9,619.2 542.0,621.1 542.1,616.3 542.2,621.3 542.2,620.4 542.3,613.6 542.4,616.7 542.5,616.0 542.6,618.0 542.7,618.4 542.7,615.9 542.8,616.6 542.9,619.9 543.0,619.0 543.1,619.1 543.2,614.6 543.3,617.2 543.3,615.6 543.4,619.5 543.5,619.0 543.6,616.7 543.7,618.6 543.8,615.8 543.8,617.9 543.9,617.3 544.0,621.0 544.1,615.2 544.2,613.6 544.3,616.0 544.3,615.9 544.4,619.9 544.5,619.9 544.6,615.9 544.7,619.2 544.8,616.7 544.9,617.4 544.9,613.6 545.0,614.7 545.1,616.9 545.2,619.0 545.3,620.7 545.4,616.8 545.4,614.8 545.5,613.0 545.6,619.0 545.7,617.6 545.8,618.4 545.9,616.4 545.9,613.9 546.0,619.0 546.1,613.8 546.2,621.6 546.3,621.4 546.4,618.9 546.4,616.3 546.5,615.7 546.6,615.5 546.7,614.1 546.8,618.2 546.9,618.9 547.0,618.9 547.0,617.0 547.1,615.2 547.2,620.8 547.3,620.8 547.4,615.2 547.5,619.8 547.5,614.6 547.6,619.1 547.7,616.6 547.8,616.5 547.9,615.9 548.0,615.4 548.0,617.0 548.1,613.6 548.2,616.2 548.3,615.3 548.4,614.6 548.5,621.0 548.5,618.2 548.6,617.3 548.7,616.6 548.8,616.1 548.9,616.4 549.0,618.5 549.1,618.9 549.1,622.3 549.2,615.3 549.3,614.7 549.4,619.8 549.5,614.8 549.6,617.7 549.6,620.1 549.7,619.2 549.8,615.0 549.9,618.7 550.0,615.6 550.1,612.5 550.1,615.2 550.2,621.8 550.3,616.3 550.4,619.2 550.5,620.7 550.6,617.4 550.7,618.2 550.7,620.9 550.8,619.3 550.9,615.5 551.0,617.1 551.1,617.5 551.2,619.3 551.2,619.9 551.3,616.1 551.4,620.2 551.5,618.5 551.6,617.2 551.7,614.5 551.7,620.3 551.8,621.6 551.9,615.7 552.0,617.4 552.1,613.5 552.2,615.4 552.2,618.6 552.3,612.5 552.4,618.5 552.5,616.4 552.6,619.0 552.7,619.5 552.8,615.8 552.8,619.5 552.9,622.1 553.0,617.0 553.1,617.5 553.2,620.9 553.3,617.6 553.3,617.6 553.4,618.8 553.5,620.7 553.6,620.7 553.7,620.3 553.8,617.4 553.8,616.1 553.9,615.5 554.0,621.5 554.1,617.0 554.2,619.8 554.3,620.0 554.3,615.3 554.4,618.9 554.5,618.8 554.6,614.0 554.7,619.9 554.8,612.6 554.9,620.8 554.9,618.5 555.0,620.5 555.1,617.5 555.2,615.8 555.3,619.5 555.4,618.4 555.4,614.2 555.5,616.1 555.6,616.1 555.7,616.7 555.8,621.3 555.9,619.0 555.9,621.0 556.0,621.4 556.1,614.3 556.2,618.9 556.3,618.8 556.4,618.9 556.4,621.8 556.5,620.9 556.6,616.5 556.7,617.2 556.8,622.3 556.9,620.6 557.0,616.7 557.0,618.9 557.1,618.5 557.2,621.0 557.3,615.4 557.4,619.1 557.5,616.4 557.5,622.4 557.6,616.9 557.7,616.6 557.8,615.4 557.9,620.2 558.0,618.8 558.0,622.9 558.1,618.8 558.2,622.3 558.3,617.9 558.4,618.3 558.5,620.4 558.6,620.6 558.6,621.2 558.7,618.0 558.8,622.9 558.9,621.8 559.0,621.7 559.1,615.3 559.1,615.5 559.2,616.1 559.3,621.3 559.4,618.6 559.5,619.5 559.6,620.0 559.6,619.1 559.7,616.0 559.8,618.0 559.9,615.4 560.0,618.9 560.1,622.3 560.1,614.5 560.2,618.4 560.3,616.7 560.4,615.7 560.5,622.4 560.6,617.3 560.7,617.4 560.7,622.1 560.8,616.5 560.9,617.3 561.0,619.2 561.1,620.6 561.2,617.8 561.2,622.2 561.3,615.9 561.4,622.7 561.5,620.4 561.6,617.3 561.7,618.4 561.7,615.7 561.8,621.6 561.9,618.8 562.0,621.1 562.1,617.7 562.2,618.3 562.2,614.8 562.3,614.9 562.4,623.2 562.5,620.7 562.6,617.1 562.7,620.2 562.8,623.5 562.8,615.3 562.9,613.7 563.0,620.6 563.1,621.4 563.2,617.7 563.3,619.9 563.3,615.5 563.4,620.1 563.5,619.1 563.6,617.4 563.7,618.6 563.8,615.9 563.8,619.7 563.9,619.3 564.0,614.6 564.1,619.1 564.2,614.9 564.3,617.2 564.4,621.2 564.4,614.8 564.5,621.5 564.6,621.2 564.7,616.7 564.8,618.3 564.9,613.3 564.9,615.9 565.0,621.2 565.1,617.9 565.2,617.8 565.3,617.6 565.4,619.3 565.4,614.5 565.5,617.8 565.6,618.1 565.7,615.5 565.8,617.6 565.9,619.1 565.9,622.1 566.0,614.6 566.1,621.6 566.2,618.7 566.3,622.5 566.4,617.9 566.5,621.6 566.5,618.7 566.6,615.3 566.7,620.1 566.8,618.3 566.9,613.9 567.0,621.2 567.0,619.9 567.1,619.4 567.2,616.1 567.3,618.0 567.4,615.6 567.5,614.0 567.5,616.1 567.6,620.1 567.7,615.6 567.8,619.9 567.9,617.7 568.0,614.6 568.0,614.3 568.1,616.4 568.2,620.1 568.3,617.4 568.4,613.2 568.5,615.6 568.6,619.7 568.6,620.3 568.7,620.4 568.8,619.3 568.9,614.9 569.0,614.1 569.1,615.9 569.1,617.6 569.2,613.7 569.3,617.8 569.4,619.5 569.5,617.7 569.6,620.7 569.6,618.6 569.7,614.3 569.8,619.3 569.9,622.4 570.0,624.5 570.1,617.7 570.1,620.3 570.2,621.6 570.3,620.4 570.4,618.7 570.5,619.2 570.6,614.0 570.7,616.5 570.7,614.3 570.8,617.7 570.9,619.8 571.0,616.7 571.1,615.3 571.2,616.6 571.2,616.8 571.3,615.7 571.4,619.0 571.5,615.4 571.6,617.9 571.7,615.3 571.7,615.8 571.8,613.9 571.9,615.0 572.0,615.9 572.1,616.4 572.2,615.5 572.3,618.3 572.3,616.3 572.4,613.9 572.5,621.3 572.6,617.1 572.7,615.8 572.8,615.5 572.8,615.1 572.9,618.9 573.0,615.6 573.1,614.5 573.2,620.0 573.3,614.9 573.3,619.1 573.4,615.1 573.5,619.2 573.6,621.5 573.7,618.0 573.8,618.7 573.8,618.9 573.9,617.6 574.0,618.5 574.1,617.0 574.2,612.7 574.3,613.2 574.4,617.8 574.4,620.3 574.5,614.0 574.6,619.0 574.7,611.5 574.8,613.0 574.9,617.1 574.9,616.9 575.0,615.4 575.1,612.0 575.2,619.1 575.3,616.7 575.4,617.1 575.4,612.5 575.5,619.4 575.6,612.6 575.7,613.0 575.8,616.7 575.9,612.7 575.9,617.9 576.0,616.4 576.1,614.8 576.2,612.1 576.3,612.3 576.4,615.0 576.5,615.8 576.5,611.8 576.6,616.2 576.7,612.0 576.8,616.1 576.9,616.8 577.0,617.0 577.0,617.8 577.1,619.0 577.2,613.9 577.3,614.5 577.4,619.2 577.5,616.5 577.5,614.0 577.6,616.2 577.7,617.6 577.8,618.7 577.9,619.1 578.0,617.2 578.1,619.0 578.1,613.6 578.2,620.8 578.3,617.9 578.4,616.9 578.5,619.0 578.6,619.8 578.6,619.8 578.7,617.9 578.8,618.0 578.9,621.6 579.0,618.1 579.1,616.1 579.1,617.8 579.2,619.3 579.3,618.1 579.4,620.5 579.5,616.4 579.6,617.0 579.6,614.3 579.7,616.8 579.8,614.4 579.9,620.5 580.0,617.9 580.1,621.0 580.2,617.4 580.2,618.6 580.3,616.5 580.4,615.2 580.5,619.6 580.6,615.5 580.7,616.8 580.7,620.7 580.8,617.4 580.9,616.4 581.0,621.7 581.1,619.7 581.2,614.8 581.2,614.8 581.3,617.8 581.4,617.4 581.5,614.7 581.6,617.0 581.7,616.9 581.7,614.3 581.8,620.3 581.9,618.2 582.0,620.9 582.1,615.7 582.2,621.9 582.3,616.3 582.3,615.0 582.4,617.5 582.5,620.5 582.6,620.0 582.7,617.8 582.8,622.2 582.8,619.3 582.9,617.9 583.0,621.6 583.1,615.3 583.2,621.0 583.3,622.6 583.3,618.7 583.4,614.5 583.5,621.5 583.6,617.1 583.7,622.1 583.8,618.1 583.9,615.4 583.9,616.6 584.0,615.4 584.1,619.4 584.2,614.9 584.3,616.1 584.4,619.3 584.4,616.7 584.5,617.9 584.6,612.6 584.7,617.5 584.8,619.3 584.9,618.0 584.9,616.9 585.0,616.6 585.1,618.9 585.2,620.5 585.3,618.7 585.4,621.3 585.4,615.1 585.5,619.6 585.6,620.3 585.7,616.4 585.8,616.3 585.9,621.3 586.0,617.8 586.0,618.5 586.1,619.0 586.2,621.7 586.3,619.2 586.4,616.6 586.5,621.3 586.5,615.9 586.6,616.9 586.7,616.1 586.8,615.4 586.9,617.9 587.0,616.8 587.0,620.3 587.1,619.7 587.2,616.3 587.3,618.7 587.4,618.5 587.5,622.8 587.5,618.6 587.6,620.2 587.7,617.8 587.8,616.7 587.9,619.3 588.0,616.9 588.1,619.3 588.1,618.9 588.2,621.3 588.3,620.5 588.4,622.9 588.5,619.9 588.6,618.1 588.6,619.6 588.7,616.9 588.8,620.1 588.9,614.8 589.0,615.5 589.1,619.8 589.1,615.3 589.2,614.5 589.3,617.4 589.4,620.8 589.5,615.7 589.6,618.5 589.6,621.4 589.7,616.7 589.8,620.0 589.9,619.4 590.0,619.5 590.1,618.4 590.2,616.5 590.2,617.6 590.3,621.3 590.4,614.0 590.5,618.5 590.6,617.1 590.7,615.2 590.7,618.0 590.8,619.8 590.9,617.7 591.0,615.1 591.1,617.4 591.2,615.4 591.2,617.5 591.3,621.7 591.4,622.3 591.5,621.1 591.6,615.6 591.7,622.8 591.8,619.8 591.8,617.3 591.9,620.9 592.0,616.6 592.1,617.4 592.2,620.6 592.3,615.0 592.3,619.5 592.4,615.0 592.5,616.2 592.6,615.5 592.7,613.7 592.8,614.7 592.8,616.0 592.9,621.1 593.0,622.2 593.1,618.0 593.2,612.6 593.3,615.3 593.3,617.3 593.4,621.1 593.5,615.2 593.6,615.5 593.7,614.6 593.8,621.4 593.9,620.2 593.9,617.4 594.0,618.7 594.1,619.3 594.2,616.8 594.3,617.0 594.4,615.1 594.4,618.9 594.5,620.3 594.6,615.9 594.7,617.7 594.8,619.4 594.9,615.5 594.9,619.2 595.0,618.3 595.1,617.5 595.2,621.0 595.3,619.9 595.4,614.0 595.4,619.5 595.5,619.8 595.6,613.9 595.7,619.5 595.8,613.9 595.9,616.4 596.0,616.5 596.0,614.7 596.1,619.2 596.2,612.9 596.3,617.4 596.4,616.3 596.5,612.8 596.5,615.7 596.6,621.1 596.7,617.7 596.8,615.2 596.9,618.6 597.0,620.1 597.0,614.1 597.1,620.7 597.2,615.2 597.3,615.7 597.4,615.7 597.5,613.8 597.6,617.4 597.6,618.6 597.7,621.0 597.8,618.3 597.9,616.2 598.0,616.0 598.1,618.4 598.1,620.2 598.2,618.1 598.3,620.9 598.4,621.4 598.5,615.1 598.6,616.5 598.6,615.9 598.7,615.9 598.8,614.2 598.9,618.3 599.0,619.3 599.1,618.9 599.1,618.5 599.2,614.5 599.3,616.0 599.4,618.8 599.5,615.4 599.6,620.1 599.7,612.8 599.7,621.5 599.8,616.2 599.9,616.7 600.0,618.1 600.1,615.1 600.2,620.5 600.2,618.1 600.3,617.4 600.4,616.7 600.5,616.9 600.6,616.4 600.7,616.2 600.7,617.3 600.8,617.6 600.9,619.9 601.0,618.5 601.1,616.4 601.2,618.4 601.2,617.7 601.3,618.4 601.4,619.1 601.5,616.8 601.6,617.1 601.7,620.2 601.8,615.9 601.8,621.4 601.9,619.2 602.0,621.3 602.1,617.4 602.2,618.3 602.3,613.2 602.3,614.6 602.4,613.5 602.5,615.0 602.6,613.5 602.7,619.1 602.8,618.2 602.8,620.8 602.9,613.9 603.0,621.0 603.1,616.3 603.2,614.8 603.3,617.3 603.3,616.2 603.4,614.3 603.5,617.5 603.6,619.3 603.7,617.4 603.8,615.6 603.9,615.8 603.9,621.5 604.0,618.6 604.1,620.1 604.2,616.9 604.3,614.4 604.4,615.8 604.4,619.5 604.5,620.3 604.6,617.1 604.7,618.2 604.8,617.3 604.9,616.5 604.9,613.6 605.0,619.0 605.1,619.6 605.2,618.3 605.3,619.2 605.4,618.4 605.5,620.6 605.5,620.8 605.6,618.1 605.7,616.7 605.8,616.3 605.9,621.5 606.0,615.9 606.0,617.2 606.1,619.4 606.2,616.6 606.3,620.2 606.4,614.0 606.5,617.0 606.5,620.4 606.6,620.2 606.7,619.5 606.8,618.7 606.9,616.9 607.0,617.4 607.0,617.7 607.1,615.0 607.2,619.9 607.3,615.1 607.4,617.7 607.5,620.8 607.6,621.5 607.6,615.4 607.7,618.8 607.8,616.8 607.9,620.5 608.0,616.4 608.1,621.3 608.1,615.3 608.2,620.1 608.3,615.9 608.4,618.6 608.5,619.2 608.6,620.8 608.6,618.5 608.7,613.8 608.8,620.2 608.9,621.1 609.0,615.0 609.1,614.8 609.1,614.4 609.2,614.7 609.3,614.4 609.4,618.7 609.5,616.2 609.6,619.6 609.7,617.2 609.7,621.5 609.8,619.2 609.9,619.7 610.0,619.2 610.1,620.6 610.2,621.1 610.2,619.6 610.3,622.2 610.4,619.8 610.5,615.3 610.6,618.6 610.7,616.2 610.7,617.0 610.8,622.5 610.9,617.5 611.0,618.0 611.1,619.8 611.2,619.2 611.3,617.9 611.3,616.0 611.4,620.0 611.5,616.6 611.6,619.6 611.7,616.4 611.8,619.4 611.8,614.6 611.9,617.9 612.0,619.3 612.1,622.3 612.2,620.2 612.3,619.9 612.3,615.8 612.4,620.1 612.5,617.3 612.6,620.7 612.7,617.8 612.8,620.3 612.8,619.2 612.9,615.3 613.0,617.9 613.1,619.7 613.2,618.2 613.3,620.3 613.4,620.5 613.4,614.2 613.5,619.6 613.6,612.0 613.7,620.9 613.8,616.2 613.9,619.0 613.9,611.3 614.0,616.8 614.1,617.0 614.2,617.5 614.3,618.3 614.4,611.9 614.4,610.2 614.5,613.3 614.6,612.7 614.7,615.2 614.8,614.1 614.9,608.8 614.9,612.3 615.0,611.5 615.1,613.5 615.2,609.0 615.3,610.1 615.4,609.8 615.5,611.2 615.5,610.4 615.6,611.2 615.7,609.1 615.8,603.8 615.9,605.3 616.0,606.1 616.0,603.6 616.1,607.0 616.2,607.5 616.3,609.9 616.4,603.2 616.5,603.0 616.5,604.7 616.6,606.3 616.7,607.9 616.8,609.5 616.9,609.8 617.0,602.8 617.0,607.2 617.1,606.2 617.2,604.6 617.3,603.9 617.4,604.5 617.5,605.9 617.6,606.9 617.6,607.2 617.7,609.0 617.8,612.2 617.9,604.9 618.0,605.6 618.1,609.0 618.1,608.0 618.2,611.8 618.3,610.8 618.4,609.1 618.5,614.8 618.6,611.6 618.6,616.5 618.7,614.4 618.8,613.3 618.9,614.8 619.0,617.3 619.1,613.8 619.2,619.5 619.2,619.1 619.3,619.5 619.4,618.0 619.5,614.9 619.6,616.2 619.7,614.3 619.7,617.4 619.8,619.4 619.9,612.5 620.0,619.4 620.1,614.7 620.2,617.6 620.2,621.8 620.3,616.4 620.4,615.1 620.5,613.8 620.6,618.6 620.7,617.5 620.7,619.8 620.8,617.8 620.9,619.2 621.0,616.6 621.1,619.0 621.2,618.6 621.3,617.0 621.3,617.1 621.4,617.6 621.5,617.7 621.6,614.9 621.7,614.8 621.8,616.5 621.8,619.8 621.9,620.5 622.0,620.8 622.1,617.9 622.2,617.1 622.3,618.2 622.3,614.6 622.4,618.8 622.5,617.1 622.6,617.5 622.7,616.7 622.8,612.7 622.8,619.6 622.9,612.8 623.0,616.7 623.1,612.1 623.2,615.4 623.3,613.1 623.4,617.4 623.4,614.4 623.5,615.1 623.6,616.3 623.7,614.2 623.8,618.6 623.9,610.5 623.9,612.3 624.0,613.7 624.1,614.3 624.2,618.1 624.3,613.5 624.4,615.7 624.4,611.7 624.5,610.4 624.6,613.3 624.7,608.9 624.8,611.6 624.9,613.4 625.0,613.6 625.0,609.1 625.1,609.6 625.2,608.8 625.3,612.8 625.4,609.2 625.5,614.8 625.5,609.3 625.6,611.9 625.7,612.0 625.8,611.3 625.9,609.0 626.0,612.2 626.0,611.3 626.1,608.8 626.2,613.5 626.3,614.9 626.4,610.6 626.5,611.3 626.5,614.3 626.6,616.3 626.7,614.8 626.8,612.3 626.9,612.2 627.0,610.1 627.1,614.6 627.1,613.3 627.2,613.3 627.3,617.0 627.4,617.6 627.5,613.4 627.6,610.7 627.6,609.9 627.7,616.3 627.8,618.0 627.9,616.0 628.0,617.4 628.1,612.9 628.1,618.5 628.2,614.7 628.3,618.1 628.4,611.6 628.5,618.3 628.6,616.4 628.6,614.4 628.7,620.8 628.8,615.1 628.9,619.0 629.0,621.1 629.1,618.3 629.2,616.0 629.2,618.9 629.3,620.3 629.4,613.8 629.5,619.7 629.6,620.9 629.7,615.7 629.7,616.9 629.8,615.2 629.9,617.7 630.0,614.4 630.1,614.3 630.2,613.3 630.2,614.8 630.3,619.9 630.4,617.2 630.5,617.8 630.6,618.8 630.7,621.9 630.7,623.4 630.8,617.5 630.9,621.9 631.0,619.4 631.1,614.4 631.2,622.1 631.3,618.1 631.3,619.8 631.4,622.9 631.5,620.8 631.6,620.8 631.7,622.1 631.8,615.6 631.8,616.5 631.9,617.0 632.0,618.1 632.1,619.8 632.2,622.0 632.3,614.1 632.3,617.3 632.4,622.5 632.5,624.0 632.6,623.3 632.7,618.2 632.8,615.0 632.9,614.2 632.9,616.4 633.0,620.4 633.1,616.3 633.2,618.4 633.3,622.2 633.4,617.8 633.4,619.1 633.5,616.6 633.6,618.1 633.7,618.3 633.8,620.2 633.9,621.2 633.9,621.1 634.0,616.2 634.1,618.4 634.2,614.9 634.3,620.7 634.4,621.4 634.4,615.7 634.5,615.3 634.6,616.9 634.7,618.9 634.8,617.1 634.9,619.3 635.0,615.7 635.0,614.3 635.1,614.8 635.2,619.2 635.3,615.3 635.4,619.1 635.5,621.0 635.5,617.6 635.6,621.6 635.7,619.0 635.8,617.9 635.9,613.3 636.0,617.4 636.0,621.6 636.1,615.6 636.2,619.6 636.3,619.0 636.4,620.4 636.5,620.5 636.5,622.6 636.6,621.2 636.7,617.7 636.8,616.4 636.9,616.4 637.0,619.9 637.1,615.7 637.1,621.5 637.2,615.3 637.3,617.0 637.4,617.4 637.5,614.2 637.6,619.9 637.6,614.8 637.7,622.1 637.8,616.0 637.9,622.1 638.0,617.2 638.1,618.1 638.1,620.3 638.2,613.9 638.3,616.3 638.4,616.1 638.5,618.4 638.6,613.9 638.7,623.5 638.7,617.2 638.8,619.6 638.9,617.9 639.0,617.3 639.1,614.6 639.2,620.9 639.2,621.4 639.3,619.3 639.4,620.4 639.5,619.8 639.6,615.8 639.7,616.7 639.7,615.0 639.8,617.8 639.9,617.2 640.0,618.6 640.1,618.7 640.2,617.2 640.2,619.9 640.3,617.9 640.4,616.8 640.5,621.9 640.6,615.3 640.7,618.7 640.8,615.6 640.8,619.8 640.9,622.0 641.0,617.1 641.1,622.1 641.2,618.9 641.3,617.7 641.3,618.5 641.4,622.1 641.5,619.5 641.6,618.5 641.7,619.2 641.8,621.7 641.8,616.8 641.9,622.3 642.0,619.3 642.1,619.4 642.2,620.5 642.3,619.2 642.3,617.8 642.4,621.9 642.5,619.0 642.6,621.9 642.7,617.7 642.8,620.0 642.9,621.1 642.9,618.9 643.0,618.0 643.1,620.2 643.2,619.9 643.3,616.9 643.4,617.9 643.4,614.1 643.5,614.8 643.6,621.8 643.7,618.2 643.8,621.0 643.9,616.1 643.9,616.0 644.0,621.9 644.1,617.5 644.2,622.1 644.3,621.4 644.4,618.9 644.5,620.7 644.5,617.0 644.6,617.0 644.7,618.8 644.8,616.1 644.9,621.2 645.0,617.0 645.0,614.7 645.1,617.0 645.2,620.0 645.3,615.5 645.4,619.9 645.5,619.8 645.5,617.2 645.6,614.0 645.7,617.1 645.8,616.2 645.9,621.3 646.0,617.0 646.0,617.2 646.1,620.4 646.2,618.4 646.3,621.9 646.4,614.1 646.5,615.0 646.6,616.1 646.6,621.8 646.7,623.2 646.8,615.6 646.9,616.5 647.0,619.4 647.1,621.8 647.1,621.3 647.2,619.7 647.3,615.1 647.4,617.1 647.5,620.2 647.6,614.2 647.6,616.4 647.7,619.3 647.8,616.6 647.9,620.2 648.0,619.0 648.1,620.9 648.1,615.5 648.2,619.4 648.3,616.5 648.4,618.0 648.5,617.1 648.6,616.2 648.7,616.1 648.7,617.6 648.8,621.5 648.9,614.5 649.0,618.7 649.1,614.2 649.2,618.5 649.2,623.3 649.3,617.1 649.4,617.0 649.5,615.7 649.6,616.5 649.7,618.6 649.7,615.9 649.8,620.4 649.9,621.3 650.0,614.4 650.1,616.4 650.2,618.8 650.2,618.5 650.3,621.5 650.4,615.4 650.5,615.8 650.6,614.2 650.7,618.3 650.8,616.4 650.8,620.0 650.9,620.1 651.0,614.3 651.1,616.5 651.2,618.2 651.3,622.3 651.3,622.1 651.4,618.2 651.5,613.3 651.6,622.0 651.7,616.2 651.8,613.1 651.8,622.6 651.9,620.9 652.0,621.6 652.1,614.2 652.2,622.2 652.3,621.3 652.4,621.6 652.4,615.1 652.5,616.8 652.6,620.2 652.7,617.6 652.8,614.9 652.9,617.0 652.9,614.6 653.0,621.5 653.1,617.7 653.2,614.3 653.3,617.5 653.4,619.9 653.4,614.3 653.5,616.6 653.6,616.2 653.7,614.5 653.8,616.8 653.9,617.1 653.9,616.0 654.0,621.4 654.1,621.3 654.2,619.5 654.3,615.2 654.4,615.3 654.5,619.6 654.5,620.2 654.6,621.0 654.7,620.9 654.8,615.3 654.9,614.9 655.0,616.6 655.0,615.9 655.1,619.8 655.2,616.7 655.3,618.7 655.4,615.4 655.5,619.3 655.5,614.0 655.6,615.6 655.7,620.4 655.8,615.1 655.9,619.8 656.0,617.6 656.0,616.2 656.1,622.3 656.2,618.7 656.3,616.1 656.4,614.6 656.5,618.8 656.6,618.3 656.6,614.9 656.7,615.4 656.8,617.2 656.9,616.6 657.0,612.8 657.1,621.0 657.1,619.8 657.2,617.8 657.3,617.0 657.4,620.8 657.5,619.9 657.6,617.1 657.6,618.1 657.7,621.1 657.8,622.0 657.9,614.9 658.0,620.1 658.1,620.6 658.2,616.2 658.2,617.0 658.3,618.5 658.4,615.9 658.5,617.3 658.6,621.0 658.7,617.6 658.7,616.1 658.8,613.2 658.9,620.1 659.0,620.6 659.1,612.8 659.2,613.9 659.2,618.9 659.3,612.2 659.4,621.1 659.5,613.8 659.6,618.8 659.7,615.1 659.7,620.4 659.8,617.6 659.9,618.5 660.0,615.6 660.1,615.3 660.2,616.8 660.3,618.4 660.3,615.2 660.4,619.1 660.5,618.8 660.6,612.5 660.7,619.0 660.8,614.7 660.8,617.7 660.9,612.7 661.0,618.0 661.1,613.4 661.2,615.7 661.3,617.7 661.3,618.1 661.4,617.9 661.5,613.1 661.6,618.2 661.7,613.5 661.8,611.7 661.8,615.1 661.9,619.1 662.0,612.4 662.1,613.0 662.2,617.4 662.3,611.9 662.4,612.5 662.4,613.4 662.5,613.5 662.6,615.5 662.7,617.1 662.8,615.0 662.9,611.3 662.9,613.1 663.0,614.6 663.1,608.7 663.2,611.1 663.3,614.6 663.4,616.2 663.4,612.6 663.5,615.2 663.6,613.2 663.7,615.6 663.8,615.0 663.9,614.9 663.9,612.7 664.0,615.8 664.1,610.5 664.2,610.5 664.3,611.3 664.4,608.8 664.5,612.5 664.5,610.0 664.6,612.6 664.7,616.1 664.8,614.0 664.9,614.0 665.0,612.5 665.0,613.5 665.1,607.1 665.2,610.1 665.3,615.0 665.4,610.3 665.5,614.1 665.5,614.2 665.6,613.5 665.7,615.9 665.8,607.0 665.9,610.5 666.0,614.1 666.1,613.4 666.1,616.5 666.2,614.2 666.3,616.6 666.4,607.6 666.5,612.3 666.6,614.9 666.6,613.6 666.7,617.1 666.8,611.8 666.9,609.4 667.0,611.0 667.1,614.6 667.1,612.8 667.2,616.5 667.3,617.6 667.4,613.0 667.5,611.7 667.6,614.0 667.6,612.2 667.7,617.6 667.8,616.5 667.9,613.0 668.0,618.1 668.1,612.7 668.2,617.9 668.2,616.0 668.3,615.7 668.4,613.1 668.5,616.2 668.6,620.5 668.7,617.4 668.7,617.9 668.8,616.5 668.9,616.8 669.0,614.2 669.1,614.2 669.2,618.0 669.2,620.4 669.3,617.2 669.4,621.5 669.5,620.9 669.6,621.4 669.7,619.7 669.7,616.7 669.8,620.8 669.9,614.5 670.0,614.5 670.1,615.5 670.2,615.2 670.3,619.7 670.3,616.0 670.4,618.1 670.5,617.5 670.6,619.0 670.7,618.0 670.8,618.8 670.8,618.1 670.9,616.6 671.0,614.0 671.1,616.4 671.2,619.7 671.3,619.0 671.3,622.2 671.4,616.7 671.5,621.6 671.6,616.8 671.7,619.0 671.8,621.2 671.9,616.6 671.9,615.5 672.0,616.3 672.1,616.7 672.2,617.0 672.3,622.4 672.4,621.9 672.4,620.0 672.5,618.2 672.6,619.5 672.7,618.7 672.8,620.2 672.9,621.4 672.9,620.3 673.0,617.7 673.1,619.3 673.2,619.1 673.3,618.7 673.4,614.1 673.4,619.0 673.5,616.0 673.6,618.3 673.7,617.1 673.8,617.8 673.9,619.4 674.0,621.9 674.0,621.3 674.1,620.6 674.2,621.3 674.3,615.7 674.4,620.0 674.5,617.8 674.5,614.0 674.6,619.6 674.7,615.2 674.8,615.2 674.9,616.0 675.0,617.7 675.0,619.8 675.1,616.3 675.2,615.1 675.3,620.5 675.4,614.7 675.5,618.1 675.5,616.8 675.6,618.7 675.7,620.7 675.8,619.0 675.9,619.6 676.0,614.5 676.1,615.4 676.1,616.9 676.2,615.6 676.3,620.6 676.4,617.6 676.5,620.3 676.6,614.0 676.6,614.4 676.7,618.5 676.8,618.9 676.9,616.0 677.0,621.6 677.1,615.7 677.1,620.2 677.2,613.5 677.3,621.9 677.4,616.6 677.5,618.4 677.6,617.6 677.6,617.7 677.7,617.4 677.8,620.1 677.9,617.8 678.0,617.6 678.1,620.9 678.2,618.4 678.2,616.4 678.3,616.0 678.4,618.2 678.5,624.0 678.6,620.9 678.7,621.8 678.7,616.1 678.8,620.2 678.9,619.5 679.0,619.3 679.1,618.2 679.2,613.5 679.2,620.7 679.3,618.2 679.4,618.0 679.5,617.0 679.6,617.8 679.7,619.8 679.8,618.4 679.8,619.1 679.9,616.0 680.0,621.7 680.1,615.0 680.2,616.8 680.3,617.8 680.3,621.5 680.4,622.8 680.5,622.7 680.6,623.1 680.7,618.2 680.8,616.1 680.8,618.6 680.9,621.7 681.0,613.9 681.1,620.2 681.2,616.1 681.3,617.2 681.3,616.2 681.4,620.1 681.5,620.6 681.6,619.7 681.7,620.7 681.8,622.3 681.9,615.6 681.9,620.3 682.0,613.6 682.1,621.9 682.2,620.9 682.3,620.3 682.4,618.8 682.4,620.5 682.5,621.3 682.6,618.2 682.7,618.1 682.8,621.6 682.9,617.3 682.9,621.6 683.0,618.2 683.1,620.8 683.2,622.0 683.3,621.0 683.4,615.7 683.4,616.8 683.5,619.6 683.6,617.7 683.7,614.0 683.8,616.0 683.9,618.7 684.0,618.7 684.0,622.5 684.1,617.1 684.2,620.3 684.3,618.7 684.4,619.2 684.5,613.9 684.5,621.6 684.6,615.6 684.7,616.8 684.8,617.0 684.9,618.6 685.0,618.5 685.0,620.7 685.1,622.1 685.2,622.0 685.3,617.9 685.4,618.8 685.5,620.3 685.6,615.2 685.6,622.0 685.7,615.1 685.8,617.9 685.9,619.7 686.0,619.2 686.1,615.9 686.1,620.4 686.2,620.5 686.3,617.6 686.4,619.0 686.5,621.6 686.6,615.5 686.6,619.4 686.7,620.8 686.8,620.9 686.9,616.6 687.0,618.5 687.1,620.5 687.1,620.7 687.2,616.5 687.3,622.0 687.4,621.5 687.5,615.0 687.6,621.6 687.7,620.9 687.7,615.1 687.8,621.9 687.9,620.4 688.0,620.8 688.1,617.8 688.2,615.9 688.2,619.5 688.3,622.7 688.4,617.5 688.5,618.8 688.6,619.5 688.7,619.3 688.7,619.9 688.8,618.0 688.9,621.8 689.0,620.7 689.1,618.7 689.2,620.8 689.2,617.9 689.3,618.0 689.4,618.1 689.5,620.5 689.6,616.2 689.7,617.2 689.8,619.0 689.8,623.0 689.9,616.6 690.0,616.8 690.1,621.9 690.2,617.8 690.3,621.7 690.3,615.7 690.4,620.9 690.5,620.4 690.6,616.9 690.7,616.1 690.8,617.8 690.8,616.7 690.9,614.5 691.0,619.9 691.1,616.0 691.2,617.6 691.3,614.4 691.3,618.0 691.4,613.6 691.5,622.1 691.6,618.7 691.7,621.1 691.8,618.4 691.9,619.4 691.9,620.3 692.0,617.1 692.1,619.5 692.2,615.7 692.3,614.4 692.4,618.9 692.4,619.5 692.5,621.4 692.6,615.4 692.7,619.9 692.8,619.9 692.9,621.0 692.9,619.3 693.0,620.3 693.1,616.3 693.2,618.5 693.3,617.3 693.4,619.8 693.5,618.7 693.5,619.6 693.6,620.6 693.7,617.6 693.8,620.3 693.9,616.3 694.0,617.3 694.0,622.0 694.1,617.6 694.2,619.7 694.3,617.5 694.4,621.4 694.5,617.3 694.5,619.7 694.6,620.9 694.7,619.9 694.8,615.6 694.9,616.7 695.0,618.1 695.0,620.8 695.1,617.5 695.2,615.0 695.3,615.8 695.4,620.3 695.5,616.7 695.6,618.4 695.6,613.9 695.7,618.9 695.8,616.0 695.9,620.1 696.0,618.3 696.1,619.7 696.1,621.3 696.2,617.5 696.3,613.8 696.4,618.1 696.5,620.5 696.6,621.6 696.6,622.9 696.7,619.8 696.8,614.8 696.9,621.2 697.0,620.5 697.1,615.0 697.1,619.5 697.2,619.9 697.3,614.3 697.4,616.3 697.5,615.1 697.6,614.7 697.7,619.5 697.7,619.4 697.8,619.2 697.9,618.1 698.0,618.1 698.1,615.1 698.2,622.0 698.2,620.4 698.3,616.4 698.4,619.8 698.5,621.5 698.6,621.3 698.7,617.9 698.7,615.2 698.8,618.2 698.9,616.1 699.0,620.1 699.1,614.8 699.2,617.5 699.3,616.4 699.3,621.4 699.4,617.2 699.5,619.1 699.6,620.3 699.7,615.7 699.8,617.1 699.8,616.9 699.9,614.3 700.0,617.8 700.1,619.4 700.2,619.0 700.3,615.9 700.3,620.5 700.4,616.7 700.5,622.6 700.6,619.9 700.7,620.2 700.8,617.8 700.8,615.2 700.9,619.8 701.0,618.2 701.1,617.8 701.2,617.0 701.3,616.7 701.4,620.8 701.4,619.4 701.5,618.7 701.6,619.4 701.7,619.3 701.8,617.8 701.9,613.4 701.9,622.7 702.0,622.2 702.1,619.3 702.2,617.5 702.3,620.0 702.4,620.5 702.4,621.3 702.5,615.1 702.6,615.3 702.7,621.1 702.8,618.8 702.9,616.2 702.9,621.3 703.0,615.9 703.1,618.1 703.2,619.0 703.3,618.7 703.4,621.1 703.5,621.2 703.5,618.8 703.6,621.5 703.7,621.0 703.8,614.3 703.9,616.1 704.0,619.1 704.0,616.6 704.1,620.0 704.2,622.7 704.3,619.8 704.4,618.0 704.5,619.4 704.5,620.5 704.6,620.1 704.7,617.3 704.8,621.6 704.9,616.1 705.0,616.5 705.1,614.7 705.1,616.5 705.2,615.5 705.3,617.0 705.4,621.8 705.5,620.4 705.6,620.4 705.6,614.1 705.7,620.3 705.8,619.8 705.9,619.3 706.0,620.4 706.1,619.4 706.1,614.7 706.2,615.8 706.3,620.0 706.4,622.6 706.5,614.5 706.6,620.6 706.6,615.6 706.7,615.8 706.8,616.0 706.9,622.6 707.0,617.7 707.1,616.0 707.2,619.0 707.2,621.4 707.3,614.9 707.4,616.8 707.5,618.9 707.6,617.8 707.7,620.5 707.7,621.7 707.8,616.1 707.9,618.4 708.0,615.1 708.1,620.1 708.2,621.8"/>
<rect x="103.0" y="357" width="672.4" height="293.0" fill="none" stroke="#000" stroke-width="2"/>
<line x1="103.00" y1="651.0" x2="103.00" y2="657.0" stroke="#000" stroke-width="2"/>
<text x="103.00" y="674.6" text-anchor="middle" class="tk">0</text>
<line x1="170.24" y1="651.0" x2="170.24" y2="654.0" stroke="#000" stroke-width="2"/>
<line x1="237.48" y1="651.0" x2="237.48" y2="657.0" stroke="#000" stroke-width="2"/>
<text x="237.48" y="674.6" text-anchor="middle" class="tk">20</text>
<line x1="304.72" y1="651.0" x2="304.72" y2="654.0" stroke="#000" stroke-width="2"/>
<line x1="371.96" y1="651.0" x2="371.96" y2="657.0" stroke="#000" stroke-width="2"/>
<text x="371.96" y="674.6" text-anchor="middle" class="tk">40</text>
<line x1="439.20" y1="651.0" x2="439.20" y2="654.0" stroke="#000" stroke-width="2"/>
<line x1="506.44" y1="651.0" x2="506.44" y2="657.0" stroke="#000" stroke-width="2"/>
<text x="506.44" y="674.6" text-anchor="middle" class="tk">60</text>
<line x1="573.68" y1="651.0" x2="573.68" y2="654.0" stroke="#000" stroke-width="2"/>
<line x1="640.92" y1="651.0" x2="640.92" y2="657.0" stroke="#000" stroke-width="2"/>
<text x="640.92" y="674.6" text-anchor="middle" class="tk">80</text>
<line x1="708.16" y1="651.0" x2="708.16" y2="654.0" stroke="#000" stroke-width="2"/>
<line x1="775.40" y1="651.0" x2="775.40" y2="657.0" stroke="#000" stroke-width="2"/>
<text x="775.40" y="674.6" text-anchor="middle" class="tk">100</text>
<line x1="102.0" y1="650.00" x2="96.0" y2="650.00" stroke="#000" stroke-width="2"/>
<text x="92.5" y="656.00" text-anchor="end" class="tk">0</text>
<line x1="102.0" y1="623.36" x2="99.0" y2="623.36" stroke="#000" stroke-width="2"/>
<line x1="102.0" y1="596.72" x2="96.0" y2="596.72" stroke="#000" stroke-width="2"/>
<text x="92.5" y="602.72" text-anchor="end" class="tk">500</text>
<line x1="102.0" y1="570.08" x2="99.0" y2="570.08" stroke="#000" stroke-width="2"/>
<line x1="102.0" y1="543.44" x2="96.0" y2="543.44" stroke="#000" stroke-width="2"/>
<text x="92.5" y="549.44" text-anchor="end" class="tk">1000</text>
<line x1="102.0" y1="516.80" x2="99.0" y2="516.80" stroke="#000" stroke-width="2"/>
<line x1="102.0" y1="490.16" x2="96.0" y2="490.16" stroke="#000" stroke-width="2"/>
<text x="92.5" y="496.16" text-anchor="end" class="tk">1500</text>
<line x1="102.0" y1="463.52" x2="99.0" y2="463.52" stroke="#000" stroke-width="2"/>
<line x1="102.0" y1="436.88" x2="96.0" y2="436.88" stroke="#000" stroke-width="2"/>
<text x="92.5" y="442.88" text-anchor="end" class="tk">2000</text>
<line x1="102.0" y1="410.24" x2="99.0" y2="410.24" stroke="#000" stroke-width="2"/>
<line x1="102.0" y1="383.60" x2="96.0" y2="383.60" stroke="#000" stroke-width="2"/>
<text x="92.5" y="389.60" text-anchor="end" class="tk">2500</text>
<line x1="102.0" y1="356.96" x2="99.0" y2="356.96" stroke="#000" stroke-width="2"/>
<text x="439.2" y="694.8" text-anchor="middle" class="ax">2-theta (deg)</text>
<text transform="translate(37.8,500.3) rotate(-90)" text-anchor="middle" class="ax">Intensity (counts)</text>
<g fill="#000">
<path d="M281.50,377.00 L286.10,382.30 L281.50,387.60 L276.90,382.30Z"/>
<path d="M403.00,523.10 L407.60,528.40 L403.00,533.70 L398.40,528.40Z"/>
<path d="M471.00,593.10 L475.60,598.40 L471.00,603.70 L466.40,598.40Z"/>
<path d="M514.80,596.40 L519.40,601.70 L514.80,607.00 L510.20,601.70Z"/>
<path d="M627.10,596.30 L631.70,601.60 L627.10,606.90 L622.50,601.60Z"/>
<path d="M666.40,596.40 L671.00,601.70 L666.40,607.00 L661.80,601.70Z"/>
<path d="M247.40,590.80 L250.60,597.20 L244.20,597.20Z"/>
<path d="M261.00,598.60 L264.20,605.00 L257.80,605.00Z"/>
<path d="M309.20,594.90 L312.40,601.30 L306.00,601.30Z"/>
<path d="M317.80,587.30 L321.00,593.70 L314.60,593.70Z"/>
<path d="M329.00,598.60 L332.20,605.00 L325.80,605.00Z"/>
<path d="M362.80,602.10 L366.00,608.50 L359.60,608.50Z"/>
<path d="M449.30,581.40 L455.70,581.40 L452.50,587.80Z"/>
<path d="M613.80,594.70 L620.20,594.70 L617.00,601.10Z"/>
<circle cx="338.50" cy="596.50" r="3.2"/>
<circle cx="378.00" cy="590.00" r="3.2"/>
<circle cx="500.50" cy="598.20" r="3.2"/>
<circle cx="575.90" cy="607.00" r="3.2"/>
<path d="M639.30,377.40 L643.90,382.70 L639.30,388.00 L634.70,382.70Z"/>
<path d="M639.80,402.40 L643.30,408.60 L636.30,408.60Z"/>
<path d="M636.30,426.90 L643.30,426.90 L639.80,433.10Z"/>
<circle cx="639.50" cy="452.00" r="3.3"/>
</g>
<text x="653.9" y="386.8" class="lg">Graphite</text>
<text x="655.5" y="410" class="lg">Li<tspan class="sub" dy="3.5">2</tspan><tspan dy="-3.5">CO</tspan><tspan class="sub" dy="3.5">3</tspan></text>
<text x="656.4" y="436" class="lg">Ni (Co)</text>
<text x="656.4" y="458.6" class="lg">MnO</text>
<text x="7" y="339" class="lab" fill="#000">(g)</text>
</svg>
</body></html>
